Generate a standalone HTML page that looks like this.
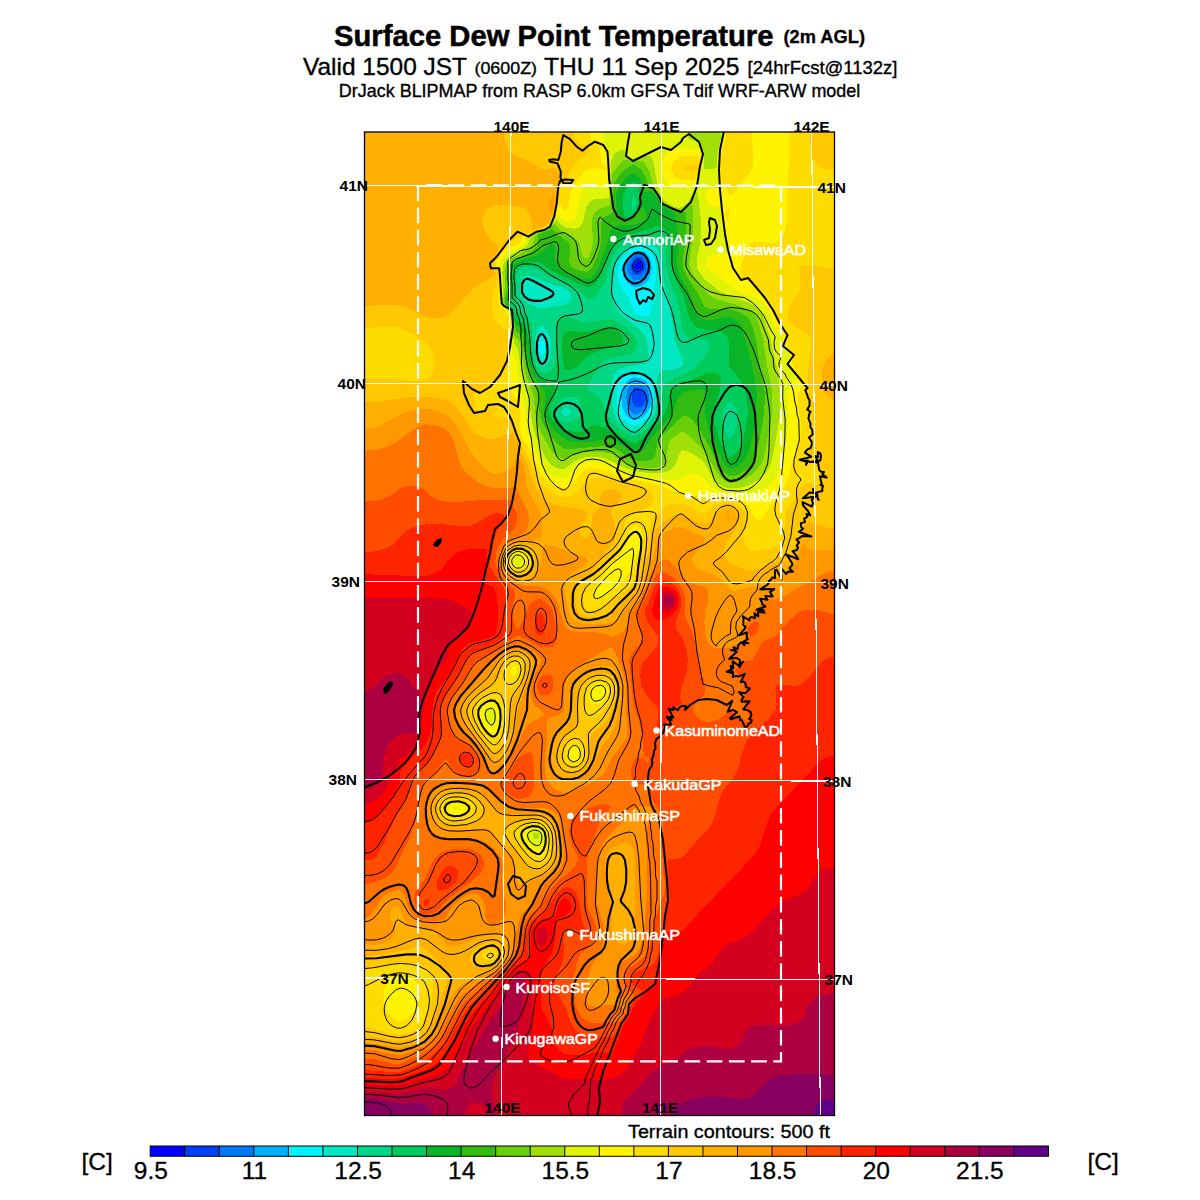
<!DOCTYPE html>
<html lang="en"><head><meta charset="utf-8"><title>Surface Dew Point Temperature</title>
<style>html,body{margin:0;padding:0;background:#fff}body{width:1200px;height:1200px;overflow:hidden}svg{display:block}text{font-family:'Liberation Sans', Arial, Helvetica, sans-serif}</style></head><body>
<svg width="1200" height="1200" viewBox="0 0 1200 1200">
<rect width="1200" height="1200" fill="#fff"/>
<defs><clipPath id="mapclip"><rect x="364.5" y="132.0" width="470.0" height="983.5"/></clipPath></defs>
<g clip-path="url(#mapclip)" shape-rendering="crispEdges">
<rect x="364.5" y="132.0" width="470.0" height="983.5" fill="#0000ff"/>
<path fill="#0040f8" fill-rule="evenodd" d="M362.5,130.0 836.5,130.0 836.5,1116.0 362.5,1116.0ZM638.5,261.4 636.5,262.2 634.3,266.0 634.5,268.1 636.5,269.6 638.5,269.7 640.5,268.7 641.8,266.0 640.5,262.0Z"/>
<path fill="#0078f8" fill-rule="evenodd" d="M362.5,130.0 836.5,130.0 836.5,1116.0 362.5,1116.0ZM636.5,257.4 634.5,258.6 632.3,262.0 630.9,266.0 630.7,268.0 632.3,272.0 633.9,274.0 636.5,275.0 640.5,274.1 642.5,272.5 644.5,269.7 645.4,266.0 644.7,262.0 642.5,258.3 640.5,257.1 638.5,256.9ZM634.5,388.4 632.9,390.0 631.9,394.0 631.9,398.0 632.6,402.0 634.5,406.4 636.5,406.9 640.5,406.6 642.5,405.7 644.4,404.0 645.4,402.0 646.3,398.0 645.7,394.0 644.5,391.2 642.5,389.3 638.5,388.3Z"/>
<path fill="#00b0fc" fill-rule="evenodd" d="M362.5,130.0 836.5,130.0 836.5,1116.0 362.5,1116.0ZM636.5,253.9 633.2,256.0 630.0,260.0 627.8,264.0 626.7,268.0 627.5,272.0 629.5,276.0 631.2,278.0 634.5,280.5 638.5,280.1 642.7,278.0 646.2,274.0 648.3,268.0 647.7,262.0 646.5,258.8 644.6,256.0 642.5,254.4 640.5,253.7ZM632.5,383.7 629.7,386.0 626.8,390.0 626.3,398.0 627.2,404.0 628.6,408.0 631.0,412.0 634.5,415.1 640.5,413.0 644.5,410.1 646.2,408.0 648.8,402.0 649.1,396.0 647.8,390.0 644.5,385.7 640.5,383.6 636.5,382.7 634.5,382.6Z"/>
<path fill="#00f4ff" fill-rule="evenodd" d="M362.5,130.0 836.5,130.0 836.5,1116.0 362.5,1116.0ZM634.5,251.4 631.0,254.0 627.3,258.0 623.5,264.0 622.2,268.0 622.8,274.0 625.2,280.0 628.7,284.0 634.5,287.4 640.5,286.3 644.5,284.1 646.5,282.3 648.5,279.6 650.2,276.0 651.9,268.0 650.4,260.0 648.5,256.0 646.5,253.5 644.5,251.9 640.5,250.5ZM632.5,377.8 628.5,379.9 626.5,381.6 623.3,386.0 621.6,390.0 621.4,398.0 622.5,406.5 625.3,414.0 629.4,418.0 634.5,420.5 638.5,419.1 642.5,416.9 646.1,414.0 647.6,412.0 649.7,408.0 651.0,404.0 651.6,396.0 650.1,388.0 648.5,384.7 646.5,382.1 644.5,380.4 640.5,378.4 634.5,377.1Z"/>
<path fill="#00e8c4" fill-rule="evenodd" d="M362.5,130.0 836.5,130.0 836.5,1116.0 362.5,1116.0ZM540.5,338.3 539.2,342.0 539.0,350.0 540.5,356.1 542.5,356.1 544.7,352.0 545.2,348.0 545.1,344.0 543.7,340.0 542.5,338.7ZM634.5,248.0 630.5,250.3 626.0,254.0 622.4,258.0 619.9,262.0 617.7,268.0 617.5,274.0 618.3,280.0 619.5,284.0 621.5,288.0 629.1,298.0 634.5,312.6 636.5,314.0 640.5,315.4 647.2,316.0 648.5,315.5 650.2,314.0 650.9,312.0 651.1,300.0 654.5,287.9 655.8,280.0 656.3,270.0 655.8,264.0 653.3,256.0 650.6,252.0 648.4,250.0 642.5,247.4 638.5,247.2ZM634.5,371.6 626.5,374.2 621.7,378.0 619.2,382.0 617.6,386.0 616.7,390.0 616.6,394.0 617.4,406.0 618.8,412.0 620.5,415.7 626.5,421.9 630.5,424.3 634.5,425.7 638.5,424.1 644.5,420.3 648.5,416.6 650.4,414.0 653.3,406.0 654.2,396.0 653.7,390.0 652.5,384.7 650.6,380.0 648.5,376.9 646.5,375.1 642.5,373.0Z"/>
<path fill="#00d888" fill-rule="evenodd" d="M362.5,130.0 836.5,130.0 836.5,1116.0 362.5,1116.0ZM526.5,275.6 524.5,276.3 522.6,278.0 521.6,280.0 520.7,284.0 520.5,292.0 522.5,297.2 524.3,300.0 528.5,303.7 536.5,307.1 540.5,308.3 542.5,308.2 558.5,306.1 564.5,304.9 568.5,302.7 570.5,300.1 571.1,296.0 570.1,292.0 564.5,288.2 546.5,282.4 532.5,276.3 528.5,275.5ZM636.5,243.8 630.5,246.0 624.5,249.7 620.1,254.0 616.5,259.6 613.3,268.0 611.3,292.0 613.6,302.0 616.3,308.0 618.9,312.0 622.4,316.0 640.7,330.0 644.8,336.0 647.1,342.0 648.6,356.0 648.2,360.0 647.2,362.0 644.2,364.0 626.5,366.7 621.9,368.0 618.5,369.7 615.9,372.0 614.5,374.1 612.9,378.0 611.7,384.0 611.1,390.0 611.8,402.0 613.4,412.0 614.9,416.0 619.3,422.0 623.7,426.0 628.5,428.9 634.5,430.9 640.5,428.2 646.5,423.7 651.9,418.0 654.4,414.0 656.1,408.0 656.9,402.0 657.1,380.0 657.6,376.0 658.5,373.7 660.4,372.0 662.5,371.2 674.5,369.0 680.5,366.8 682.5,365.1 683.3,362.0 682.6,358.0 676.7,346.0 674.7,340.0 670.5,310.0 668.3,300.0 663.2,282.0 660.0,258.0 658.5,251.5 656.4,248.0 653.8,246.0 650.5,244.6 642.5,243.3ZM540.5,326.0 538.5,328.6 536.3,334.0 535.1,340.0 535.0,348.0 536.0,356.0 538.0,362.0 540.5,366.3 542.5,366.7 544.5,366.2 546.5,364.8 549.4,360.0 550.8,354.0 551.1,344.0 550.3,338.0 548.0,332.0 544.5,327.6 542.5,326.3ZM564.5,407.7 562.4,410.0 562.0,412.0 562.5,414.2 564.5,415.9 566.5,415.6 569.8,414.0 570.7,412.0 570.3,410.0 567.7,408.0Z"/>
<path fill="#00cc5c" fill-rule="evenodd" d="M362.5,130.0 836.5,130.0 836.5,1116.0 362.5,1116.0ZM634.5,193.8 632.5,197.2 632.0,202.0 632.5,209.4 634.5,209.7 635.5,202.0ZM644.5,237.8 634.5,239.5 630.5,241.0 622.5,245.1 618.5,248.5 614.5,254.0 611.6,260.0 609.3,266.0 605.4,280.0 602.5,286.9 596.5,295.2 594.5,297.0 590.5,299.0 588.5,299.4 586.5,298.5 580.7,292.0 568.5,284.2 550.5,277.0 540.5,271.1 532.5,267.8 526.5,267.2 522.5,267.8 520.5,268.6 518.5,270.1 517.4,272.0 516.5,274.5 515.8,280.0 515.6,292.0 516.5,306.0 518.5,310.2 528.5,317.7 531.1,322.0 531.9,328.0 531.9,346.0 532.9,356.0 535.8,366.0 540.5,372.6 544.5,373.4 548.5,372.5 552.0,370.0 554.4,366.0 555.7,360.0 556.1,354.0 555.8,324.0 557.2,320.0 560.5,317.4 564.5,316.4 568.5,317.0 582.5,321.9 586.5,322.7 590.5,322.4 604.5,319.3 610.5,319.2 616.5,321.6 624.0,326.0 629.0,330.0 634.3,336.0 636.7,340.0 637.1,342.0 636.5,346.7 634.5,351.1 632.5,352.9 628.5,354.7 610.5,358.0 605.6,360.0 602.6,362.0 600.5,364.0 597.8,368.0 586.5,390.0 594.5,393.2 598.5,396.0 600.5,398.5 602.5,402.5 607.5,416.0 615.7,426.0 624.5,432.7 630.5,435.4 634.5,436.3 640.5,433.7 646.5,429.2 652.5,423.3 657.9,416.0 660.4,408.0 662.6,390.0 664.1,386.0 665.5,384.0 670.5,380.2 688.5,372.3 697.1,366.0 707.7,352.0 709.7,346.0 709.1,342.0 706.5,340.1 704.5,339.6 692.5,339.3 688.5,337.8 684.8,334.0 682.5,328.0 679.6,310.0 677.3,300.0 674.6,292.0 670.2,282.0 667.7,274.0 666.3,266.0 664.8,248.0 663.1,242.0 660.5,238.7 658.5,237.1 654.5,236.7ZM728.5,401.7 724.5,408.1 722.5,413.9 722.4,416.0 724.4,428.0 728.5,438.7 730.6,438.0 732.5,435.5 734.5,431.4 736.7,424.0 737.8,416.0 736.6,410.0 734.5,405.7 732.5,403.4 730.5,402.0ZM564.5,397.9 560.5,401.1 556.3,406.0 554.8,410.0 554.9,414.0 555.9,416.0 558.5,418.9 564.5,422.6 568.5,422.6 572.5,421.7 575.9,420.0 578.3,418.0 580.8,414.0 581.8,410.0 581.1,404.0 579.3,400.0 576.5,397.4 574.5,396.8 570.5,396.7Z"/>
<path fill="#08b428" fill-rule="evenodd" d="M362.5,130.0 836.5,130.0 836.5,1116.0 362.5,1116.0ZM630.5,183.8 626.5,188.0 623.5,194.0 623.1,202.0 623.8,216.0 626.5,217.7 630.5,217.0 634.5,213.9 637.0,210.0 639.0,204.0 639.3,192.0 638.5,187.2 636.5,183.9 634.5,182.0ZM658.5,226.0 642.5,231.1 626.5,235.4 622.5,236.9 618.5,239.6 614.5,244.1 610.9,250.0 602.3,272.0 598.5,279.4 594.5,284.0 591.7,286.0 588.5,287.3 584.5,286.3 554.5,272.4 548.5,268.7 540.5,262.7 534.5,262.2 528.5,262.5 518.5,264.7 516.5,265.9 514.9,268.0 513.7,272.0 512.9,278.0 512.2,296.0 510.3,306.0 512.9,310.0 514.5,316.1 516.5,319.8 518.5,320.5 522.5,322.9 524.5,325.0 526.5,328.6 528.2,336.0 530.5,358.0 532.5,366.0 534.5,370.5 540.5,378.8 552.5,383.7 555.0,386.0 556.1,390.0 555.7,392.0 550.0,406.0 549.2,410.0 549.4,414.0 551.2,418.0 554.4,422.0 562.5,428.6 564.5,429.9 570.5,431.3 576.5,431.9 580.5,431.7 585.3,430.0 590.5,425.9 592.5,425.1 596.5,425.2 610.5,430.2 620.5,436.8 628.5,441.1 634.5,443.2 636.5,442.6 642.5,438.6 650.5,431.6 657.5,424.0 663.8,416.0 665.5,412.0 669.6,394.0 671.8,390.0 674.0,388.0 680.5,384.0 691.4,380.0 704.5,374.1 710.5,372.9 716.5,373.2 718.6,374.0 720.3,376.0 721.0,382.0 720.0,390.0 716.5,400.0 714.1,410.0 713.6,416.0 714.5,422.0 718.9,438.0 724.5,449.9 728.5,456.6 730.5,456.9 732.5,456.2 736.5,453.1 740.5,446.9 743.3,440.0 745.9,428.0 747.7,416.0 747.8,410.0 746.7,398.0 744.8,390.0 740.5,380.7 728.9,366.0 728.5,362.0 728.8,342.0 728.4,340.0 726.3,336.0 722.5,332.7 718.5,331.2 702.5,329.0 698.5,327.8 694.5,325.5 690.5,320.1 688.9,316.0 683.4,296.0 675.0,278.0 672.4,270.0 671.5,262.0 671.7,244.0 670.4,238.0 668.5,233.9 665.5,230.0 662.5,227.6ZM603.6,328.0 608.5,327.5 612.3,328.0 618.5,331.4 622.4,336.0 623.5,340.0 622.7,342.0 620.1,344.0 615.8,346.0 598.5,351.0 591.3,354.0 585.6,358.0 577.4,366.0 572.5,369.1 568.5,370.1 566.5,369.8 564.5,368.0 562.5,357.2 561.8,346.0 562.5,338.6 564.5,333.4 566.5,332.0 570.5,331.1 582.5,331.9 588.5,331.7Z"/>
<path fill="#30bc10" fill-rule="evenodd" d="M362.5,130.0 836.5,130.0 836.5,1116.0 362.5,1116.0ZM632.5,173.6 628.5,175.6 624.5,179.3 620.5,184.9 616.8,192.0 616.1,194.0 616.0,200.0 616.3,206.0 617.6,212.0 620.1,218.0 622.5,220.7 624.5,221.6 628.5,221.4 632.5,219.0 635.8,216.0 642.5,207.0 643.6,208.0 645.6,212.0 646.7,216.0 646.6,218.0 641.1,222.0 636.4,224.0 630.5,225.0 618.5,225.4 614.5,226.4 612.5,227.7 610.5,231.1 607.3,244.0 599.1,266.0 594.5,274.0 590.5,278.0 588.5,279.3 586.5,279.4 582.5,278.5 566.6,272.0 559.4,268.0 557.5,266.0 555.7,262.0 554.7,256.0 555.3,248.0 554.5,245.8 552.5,244.3 550.5,244.4 544.3,250.0 536.5,255.3 516.5,262.2 512.6,266.0 511.6,268.0 510.2,276.0 509.8,292.0 508.5,297.8 506.7,302.0 506.9,304.0 511.5,310.0 515.6,322.0 516.5,326.0 518.5,326.9 521.7,330.0 524.5,335.4 526.0,342.0 528.6,362.0 531.7,372.0 536.5,380.6 540.5,385.9 544.5,390.0 545.2,392.0 545.6,398.0 544.1,410.0 544.9,416.0 548.0,422.0 552.5,427.8 562.5,437.8 565.7,440.0 573.5,442.0 582.5,442.5 590.2,442.0 604.5,439.3 610.5,439.2 616.5,441.8 632.5,451.2 634.5,452.1 636.5,452.1 640.5,450.9 644.5,448.0 651.4,438.0 669.8,418.0 672.3,414.0 677.2,400.0 681.1,394.0 682.5,392.8 690.8,390.0 698.5,389.1 702.5,389.5 704.5,390.7 705.4,394.0 705.3,416.0 708.5,428.0 712.6,440.0 724.5,464.0 728.5,468.1 730.5,468.4 734.5,467.7 738.5,465.9 742.5,462.6 745.6,458.0 748.5,451.8 752.5,438.0 756.4,410.0 756.7,392.0 755.3,382.0 752.5,366.9 742.8,330.0 740.9,326.0 738.0,322.0 734.5,319.1 730.5,317.1 728.5,316.6 726.5,316.9 714.5,319.7 706.5,320.4 702.5,319.2 698.5,315.9 695.5,310.0 689.2,292.0 681.1,278.0 677.5,268.0 677.1,260.0 678.6,240.0 677.7,232.0 674.9,218.0 675.5,214.0 674.5,213.6 673.4,212.0 670.5,210.7 662.5,205.3 659.5,202.0 656.5,196.5 654.5,194.0 652.5,192.4 650.5,191.4 644.5,192.3 644.2,192.0 642.9,190.0 642.7,184.0 640.5,179.3 636.5,174.4 634.5,173.1Z"/>
<path fill="#68d008" fill-rule="evenodd" d="M362.5,130.0 836.5,130.0 836.5,1116.0 362.5,1116.0ZM632.5,165.4 626.5,168.0 622.5,171.4 617.2,178.0 613.6,184.0 613.1,188.0 613.3,208.0 612.8,212.0 612.5,212.6 604.5,216.7 603.0,218.0 602.1,220.0 601.0,226.0 601.0,242.0 599.7,248.0 596.5,257.7 593.7,264.0 591.4,268.0 588.5,271.0 586.5,271.7 580.5,270.8 573.1,268.0 570.7,266.0 569.2,262.0 570.1,248.0 569.5,244.0 568.5,242.0 557.0,234.0 552.5,229.4 550.5,229.3 539.4,234.0 537.8,236.0 538.1,242.0 537.8,244.0 535.9,248.0 534.2,250.0 528.5,253.9 518.5,257.8 514.6,260.0 510.5,264.0 508.4,268.0 507.7,274.0 507.3,290.0 504.7,300.0 504.7,302.0 505.3,304.0 510.3,310.0 511.3,312.0 514.4,322.0 516.5,331.7 518.5,333.1 520.5,335.7 522.5,340.0 525.9,362.0 527.7,370.0 530.5,377.7 537.3,390.0 538.5,394.0 539.3,400.0 539.5,412.0 540.6,418.0 544.5,426.4 552.5,438.0 558.5,444.9 564.5,449.0 572.5,448.9 602.5,446.2 610.5,446.6 614.5,448.3 628.5,457.2 634.5,460.4 644.5,461.3 650.9,460.0 653.6,458.0 654.5,456.7 655.5,454.0 657.5,442.0 658.1,440.0 659.5,438.0 674.6,424.0 682.5,415.6 686.5,416.0 688.5,416.8 692.5,419.9 698.5,427.8 708.5,445.3 717.8,464.0 722.5,470.8 728.5,476.0 732.5,476.1 736.5,475.1 742.5,472.2 748.1,468.0 752.2,464.0 754.2,460.0 756.5,453.6 758.8,444.0 764.0,414.0 764.8,400.0 764.5,390.0 759.9,366.0 756.0,340.0 752.5,325.5 749.7,320.0 746.5,316.2 738.5,311.9 728.5,309.0 710.5,309.2 706.5,308.1 704.5,306.5 696.9,292.0 686.7,276.0 683.2,268.0 682.9,260.0 685.5,240.0 685.6,212.0 680.5,212.0 676.5,211.3 668.5,207.4 663.4,204.0 660.5,200.6 656.5,193.5 648.7,186.0 645.0,176.0 641.3,170.0 636.5,165.9 634.5,165.1Z"/>
<path fill="#a0e008" fill-rule="evenodd" d="M362.5,130.0 836.5,130.0 836.5,1116.0 362.5,1116.0ZM624.5,159.8 621.2,162.0 618.5,164.7 612.5,173.5 611.1,184.0 611.2,194.0 610.1,204.0 608.5,205.9 601.4,208.0 597.5,210.0 594.5,213.0 592.5,216.8 591.8,224.0 593.3,242.0 591.5,250.0 588.5,257.5 586.5,258.8 584.5,258.0 582.8,256.0 581.3,252.0 579.4,244.0 577.1,240.0 571.8,236.0 562.5,231.4 558.5,228.2 554.5,223.8 548.5,228.9 538.5,233.4 534.9,236.0 533.6,238.0 533.6,242.0 532.9,244.0 530.0,248.0 524.5,251.9 516.5,255.5 512.3,258.0 508.5,261.6 506.0,266.0 505.2,270.0 504.8,288.0 503.4,302.0 505.2,306.0 508.5,309.3 510.3,312.0 513.8,324.0 514.5,336.0 518.5,339.8 520.1,344.0 525.5,374.0 528.1,382.0 531.7,390.0 533.5,396.0 535.7,416.0 538.5,426.5 542.5,435.3 550.9,450.0 554.5,454.4 556.5,456.1 560.5,458.1 564.5,458.8 574.5,454.9 586.5,452.3 594.5,451.8 602.5,452.1 611.3,454.0 626.5,463.1 633.4,466.0 640.5,467.3 648.5,468.0 658.5,467.4 664.4,464.0 666.6,458.0 668.5,444.0 670.3,440.0 676.5,434.9 680.5,432.4 682.5,431.9 686.5,433.8 690.5,436.7 704.5,450.9 716.4,472.0 722.5,479.2 728.5,482.7 734.5,482.5 740.5,480.9 746.5,478.0 752.5,474.0 756.7,470.0 761.4,464.0 763.6,458.0 765.6,450.0 771.9,414.0 772.4,402.0 772.0,390.0 766.8,364.0 763.3,340.0 758.4,322.0 756.5,317.4 754.5,314.4 752.5,312.4 748.5,309.8 736.5,304.7 716.5,299.4 710.5,296.1 704.5,290.1 696.6,280.0 692.6,274.0 689.8,268.0 689.3,264.0 689.8,256.0 692.3,242.0 692.8,236.0 693.0,222.0 692.5,206.0 690.5,205.4 682.5,209.6 678.5,209.9 674.5,208.7 665.8,204.0 662.5,201.0 658.6,194.0 652.9,186.0 649.4,172.0 646.6,166.0 644.5,163.2 642.5,161.3 640.5,160.9 632.5,161.2 626.5,159.5Z"/>
<path fill="#e0f408" fill-rule="evenodd" d="M362.5,130.0 686.7,130.0 688.0,134.0 687.6,138.0 690.5,139.4 696.5,141.0 700.5,145.0 702.5,148.6 703.9,152.0 704.6,156.0 704.1,162.0 704.5,168.8 714.5,168.5 716.5,167.2 717.7,152.0 720.6,140.0 721.0,136.0 720.4,134.0 718.5,131.9 715.4,130.0 836.5,130.0 836.5,1116.0 362.5,1116.0ZM622.5,149.6 618.5,150.9 616.5,152.2 613.2,156.0 611.4,160.0 610.7,164.0 610.7,172.0 609.3,184.0 609.3,194.0 608.5,198.0 594.5,199.5 592.5,200.1 589.4,202.0 586.5,207.2 582.8,222.0 580.5,226.3 578.5,227.8 574.5,228.7 566.5,227.7 562.5,225.7 556.5,219.4 550.7,226.0 548.2,228.0 536.5,233.4 530.2,238.0 528.3,244.0 524.5,247.9 512.5,254.1 508.5,256.8 505.5,260.0 502.8,266.0 502.4,274.0 503.3,288.0 502.1,302.0 503.7,306.0 509.2,312.0 512.4,322.0 513.1,326.0 513.0,336.0 514.0,342.0 514.5,344.0 516.5,346.0 518.5,352.1 522.2,376.0 528.6,398.0 532.0,422.0 535.1,434.0 542.5,451.8 546.8,460.0 550.0,464.0 552.5,465.9 558.5,468.6 564.5,468.8 573.3,462.0 582.2,458.0 588.5,456.6 594.5,456.7 602.5,457.7 608.5,459.5 622.5,466.8 634.5,471.1 650.5,473.2 660.5,473.2 666.5,471.8 670.1,470.0 672.6,468.0 675.6,464.0 680.5,452.0 682.5,450.2 686.5,450.9 690.5,452.5 696.5,456.1 700.5,459.3 704.5,463.1 710.7,474.0 714.5,479.6 718.5,483.6 722.0,486.0 728.5,488.4 732.5,488.5 740.5,487.7 746.7,486.0 752.5,483.4 760.5,478.0 766.4,472.0 770.0,466.0 772.9,456.0 779.8,416.0 779.8,390.0 778.7,374.0 774.5,359.3 770.8,340.0 763.9,318.0 762.0,314.0 759.1,310.0 756.5,307.4 752.5,304.7 744.5,301.1 724.8,294.0 718.5,290.4 704.5,279.1 698.0,270.0 696.5,266.0 696.5,260.0 700.3,242.0 701.2,228.0 700.6,218.0 698.0,196.0 697.1,192.0 696.5,191.4 694.5,192.4 692.5,194.7 688.1,202.0 682.5,207.0 678.5,207.9 674.5,206.8 668.7,204.0 663.7,200.0 658.3,190.0 653.9,164.0 652.5,159.5 650.5,156.0 646.5,156.1 636.5,158.5 632.5,158.6 630.3,158.0 627.7,156.0 624.5,149.8ZM534.5,833.4 533.4,834.0 532.8,836.0 534.5,838.8 536.5,839.5 538.5,838.2 538.9,836.0 537.9,834.0 536.5,833.4Z"/>
<path fill="#fff400" fill-rule="evenodd" d="M362.5,130.0 602.5,130.0 604.2,142.0 607.3,154.0 608.8,170.0 608.5,175.3 606.5,188.9 600.5,188.0 590.5,185.0 588.5,184.9 586.5,185.9 582.8,190.0 580.7,194.0 579.3,200.0 577.0,214.0 575.5,218.0 574.5,219.2 570.5,221.4 564.5,221.3 561.0,218.0 558.5,213.9 556.5,215.8 551.3,224.0 548.5,226.7 544.5,229.2 537.1,232.0 530.5,236.2 526.4,238.0 525.0,242.0 521.4,246.0 518.2,248.0 508.7,252.0 505.6,254.0 502.0,258.0 499.8,264.0 499.7,268.0 501.1,274.0 501.8,288.0 500.9,302.0 502.3,306.0 508.5,312.8 511.4,322.0 512.0,326.0 511.7,346.0 512.1,352.0 512.5,354.0 514.8,358.0 516.5,363.6 519.1,384.0 524.9,406.0 527.5,430.0 529.5,438.0 534.7,448.0 540.5,463.2 542.5,466.5 546.5,471.0 550.5,474.2 554.5,476.5 560.5,478.7 564.5,479.0 566.5,477.7 576.5,467.8 581.0,464.0 586.5,461.7 592.5,461.5 602.5,463.5 620.5,471.3 630.5,474.6 638.5,476.3 658.5,479.1 672.5,479.8 678.5,479.5 683.1,478.0 690.5,474.4 692.5,474.0 696.5,474.4 700.5,476.2 704.5,479.0 708.5,484.0 712.7,488.0 718.5,490.9 728.5,493.0 752.5,495.1 756.5,493.7 760.5,491.5 770.5,484.1 775.3,478.0 779.0,470.0 781.8,460.0 785.9,440.0 787.7,428.0 788.6,416.0 787.9,398.0 788.5,390.0 791.4,384.0 795.8,380.0 795.9,378.0 789.7,366.0 789.2,364.0 790.6,356.0 789.9,354.0 784.6,348.0 783.6,346.0 783.4,338.0 782.5,334.0 776.5,330.0 774.5,326.2 768.7,310.0 764.5,303.4 762.5,301.3 758.5,298.9 739.6,292.0 736.3,290.0 706.5,268.0 705.7,266.0 705.8,262.0 706.5,259.1 708.5,256.3 710.5,254.9 714.5,253.9 724.5,254.5 726.5,254.0 727.2,250.0 726.7,244.0 723.2,228.0 722.0,220.0 718.5,206.8 714.5,207.4 710.5,206.0 708.5,203.9 706.5,200.1 705.7,194.0 706.5,191.3 708.5,189.4 712.5,187.9 716.5,187.8 717.1,186.0 718.3,178.0 719.9,152.0 723.2,138.0 723.2,134.0 721.8,130.0 836.5,130.0 836.5,1116.0 362.5,1116.0ZM452.5,807.6 451.9,808.0 452.5,808.6 454.5,809.8 456.5,809.9 460.0,808.0 456.5,806.8ZM488.5,707.6 484.9,710.0 484.1,714.0 484.5,717.3 486.4,722.0 488.0,724.0 490.5,726.2 492.5,726.9 494.5,725.2 495.7,720.0 495.9,714.0 495.2,710.0 494.5,708.7 492.5,707.3ZM516.5,555.3 513.8,558.0 512.9,562.0 514.2,564.0 516.5,565.7 518.5,565.9 520.5,565.0 522.5,563.1 523.2,562.0 523.0,560.0 522.2,558.0 520.5,556.1 518.5,555.2ZM530.5,829.1 526.5,832.0 525.7,834.0 526.3,838.0 527.1,840.0 529.9,844.0 532.5,846.4 536.5,848.4 540.5,848.7 542.5,845.6 543.9,840.0 544.0,836.0 543.0,832.0 540.5,829.3 538.5,828.6 534.5,828.2ZM600.5,689.9 598.5,690.0 597.2,692.0 597.7,694.0 598.5,694.5 600.6,694.0 601.4,692.0ZM673.7,150.0 680.5,148.4 696.5,148.8 698.5,149.4 700.6,152.0 701.5,154.0 702.1,158.0 699.9,174.0 696.5,182.7 694.5,185.6 692.5,187.3 680.5,188.5 672.6,188.0 668.5,186.0 665.5,182.0 663.3,176.0 662.2,170.0 662.2,166.0 663.3,160.0 664.5,156.8 666.5,153.8 668.6,152.0Z"/>
<path fill="#ffdc00" fill-rule="evenodd" d="M362.5,130.0 589.5,130.0 590.0,134.0 591.8,140.0 596.5,143.0 598.9,146.0 599.6,148.0 601.4,162.0 602.5,164.6 604.5,166.2 604.5,170.3 598.5,168.3 594.5,167.9 588.5,168.7 584.5,171.3 578.3,178.0 572.2,188.0 570.2,194.0 568.5,206.2 566.5,210.1 564.5,210.9 560.5,204.8 559.9,206.0 558.5,207.0 552.8,220.0 548.1,226.0 544.5,228.3 536.5,231.2 530.5,234.6 522.5,237.1 521.5,238.0 520.4,242.0 518.5,243.9 516.5,245.0 508.5,247.3 504.5,250.2 500.5,255.0 496.2,262.0 496.3,266.0 498.7,270.0 499.8,274.0 500.0,288.0 499.2,298.0 499.6,304.0 502.5,308.6 504.5,310.0 506.6,314.0 508.5,316.0 509.1,320.0 510.7,324.0 510.4,340.0 508.4,366.0 508.9,386.0 509.7,390.0 516.5,399.8 519.4,408.0 520.5,414.0 520.1,430.0 521.0,436.0 522.8,440.0 527.5,446.0 531.2,452.0 540.5,473.7 544.5,478.1 548.5,481.5 552.5,484.1 558.5,487.0 564.5,488.4 568.5,486.7 572.5,483.7 582.5,472.0 586.5,468.7 588.5,467.9 594.5,468.2 600.5,469.7 626.5,478.4 652.5,483.6 661.8,486.0 667.2,488.0 674.5,491.7 680.5,493.6 704.5,497.6 726.5,497.3 732.5,498.0 738.5,499.5 742.5,501.2 746.5,504.0 749.7,508.0 754.5,516.8 756.5,519.1 758.5,520.3 760.5,520.2 762.5,518.4 765.7,512.0 781.1,492.0 785.6,484.0 788.6,476.0 800.0,438.0 801.3,432.0 801.4,424.0 798.5,409.8 797.6,398.0 798.5,392.2 800.0,390.0 802.4,388.0 802.6,386.0 801.9,382.0 800.3,378.0 793.8,368.0 792.0,364.0 792.0,362.0 793.6,356.0 793.3,354.0 787.1,346.0 786.6,344.0 787.1,336.0 785.8,332.0 779.0,322.0 773.3,310.0 765.6,298.0 750.5,282.1 747.3,280.0 742.6,278.0 740.5,276.3 739.2,274.0 738.8,270.0 740.8,266.0 746.4,250.0 750.5,244.1 752.5,242.6 756.5,241.9 770.5,243.1 774.5,242.9 776.5,242.2 781.0,238.0 783.5,234.0 785.1,230.0 787.5,218.0 787.3,194.0 788.9,162.0 788.9,130.0 836.5,130.0 836.5,1116.0 362.5,1116.0ZM398.5,975.7 392.1,978.0 388.9,980.0 387.2,982.0 384.5,988.0 383.7,992.0 383.4,998.0 384.5,1005.8 388.0,1012.0 393.9,1018.0 398.5,1020.7 400.5,1020.9 404.5,1019.2 409.1,1016.0 412.5,1012.5 416.5,1006.8 417.9,1004.0 418.5,1001.0 419.1,992.0 417.9,986.0 415.7,982.0 413.9,980.0 406.5,976.7 400.5,975.5ZM450.5,801.6 446.5,803.6 443.9,808.0 444.5,810.4 446.5,813.6 450.5,815.6 456.5,816.3 462.5,815.2 467.9,812.0 469.5,810.0 470.3,808.0 467.1,804.0 462.5,801.6 456.5,800.7ZM490.5,699.9 484.5,702.3 480.5,705.8 477.7,710.0 477.7,714.0 479.9,722.0 484.5,730.1 487.8,734.0 490.5,736.3 492.5,737.5 494.5,737.6 497.6,734.0 499.6,728.0 500.8,720.0 500.7,710.0 498.5,704.3 496.5,701.6 494.5,700.0ZM516.5,551.6 512.8,554.0 511.2,556.0 510.3,558.0 509.8,562.0 512.5,566.5 516.5,569.1 518.5,569.3 522.4,568.0 524.9,566.0 527.2,562.0 527.1,560.0 525.6,556.0 523.9,554.0 520.5,551.9ZM528.5,825.7 524.2,828.0 520.4,832.0 520.0,834.0 520.9,838.0 523.9,844.0 528.5,849.8 534.5,855.0 540.5,857.4 542.5,855.9 544.5,852.9 547.0,846.0 547.7,838.0 546.6,832.0 543.9,828.0 540.5,825.2 534.5,824.5ZM572.5,745.5 570.0,748.0 568.5,751.4 568.0,754.0 568.4,758.0 569.5,760.0 572.2,762.0 574.5,762.5 576.5,762.1 578.5,760.9 580.5,758.0 581.3,754.0 580.8,750.0 578.6,746.0 576.5,744.8 574.5,744.7ZM634.5,525.7 632.2,528.0 629.6,532.0 624.6,546.0 621.7,552.0 610.5,566.0 602.5,578.3 595.3,588.0 593.7,594.0 593.9,596.0 595.5,598.0 598.5,598.3 602.5,596.8 610.5,592.1 618.5,586.0 625.5,578.0 634.5,561.9 639.9,548.0 642.2,538.0 641.9,534.0 640.5,529.3 638.5,526.9 636.5,525.8ZM512.5,666.9 510.3,670.0 510.3,674.0 512.5,676.3 514.5,676.1 516.8,674.0 517.6,670.0 517.2,668.0 516.5,666.5 514.5,666.0ZM596.5,683.7 592.8,686.0 591.2,688.0 590.1,690.0 589.0,694.0 589.2,698.0 590.5,701.6 592.5,703.6 594.5,704.2 596.5,704.2 600.5,702.9 604.5,700.0 607.3,696.0 608.4,692.0 608.0,688.0 607.0,686.0 604.6,684.0 600.5,683.0ZM725.1,130.0 751.3,130.0 753.5,158.0 752.5,168.0 750.1,172.0 736.5,189.9 732.5,193.7 730.5,194.8 728.5,192.9 726.1,188.0 722.5,183.6 721.4,176.0 721.0,168.0 721.7,156.0 722.5,150.0 725.6,138.0 725.7,134.0ZM684.9,156.0 698.5,156.0 699.3,158.0 699.6,162.0 698.5,170.8 696.8,176.0 694.5,179.7 684.5,180.1 680.5,179.6 676.8,178.0 674.5,176.2 671.6,172.0 670.7,168.0 673.6,162.0 678.5,157.8 682.5,156.3ZM727.6,210.0 728.5,208.1 729.1,212.0 728.7,218.0 726.5,220.1 726.3,212.0 726.5,210.9Z"/>
<path fill="#ffc800" fill-rule="evenodd" d="M362.5,130.0 573.9,130.0 574.2,134.0 575.3,138.0 579.1,144.0 582.5,146.3 588.5,146.6 590.7,148.0 588.5,152.3 578.9,160.0 575.3,164.0 562.5,184.0 560.2,190.0 558.2,202.0 555.0,212.0 551.6,220.0 548.9,224.0 544.5,227.3 536.5,230.2 530.5,233.1 526.5,233.7 520.5,233.5 518.5,234.6 514.5,239.0 508.5,242.8 504.5,246.5 500.5,251.5 493.7,262.0 493.3,264.0 493.7,266.0 497.7,272.0 498.3,276.0 496.9,286.0 493.5,292.0 492.1,298.0 491.6,304.0 492.0,310.0 493.4,316.0 498.2,324.0 502.6,328.0 508.5,331.1 508.8,340.0 507.1,354.0 504.9,364.0 502.5,370.1 499.1,376.0 492.5,384.5 488.5,388.1 482.5,392.1 478.5,393.3 474.5,393.3 472.7,394.0 474.4,400.0 474.5,406.6 474.8,408.0 476.5,410.2 480.5,411.3 484.5,410.4 490.5,407.3 494.5,407.3 497.7,408.0 497.8,410.0 495.3,412.0 494.2,414.0 497.3,416.0 506.5,417.5 508.5,418.5 510.5,420.5 512.5,423.8 518.5,437.1 522.5,448.0 526.5,453.1 529.2,458.0 535.3,474.0 538.3,480.0 542.5,485.3 552.5,493.0 558.5,495.8 564.5,497.3 570.5,496.0 574.5,494.2 577.5,492.0 588.5,479.3 592.5,478.0 596.5,477.8 610.5,480.0 645.6,488.0 649.4,490.0 652.9,494.0 653.6,496.0 653.8,500.0 651.7,504.0 646.5,508.0 632.5,514.3 628.5,517.5 626.5,520.0 623.9,526.0 620.1,542.0 616.5,549.7 608.4,560.0 598.5,574.2 594.5,578.6 586.5,585.8 585.1,588.0 583.4,594.0 583.3,602.0 584.4,606.0 585.6,608.0 588.5,610.4 594.5,610.1 602.5,606.7 610.5,601.4 618.5,594.9 628.5,588.3 630.9,586.0 634.5,579.6 638.5,566.0 644.3,550.0 651.2,522.0 653.5,518.0 658.5,513.3 662.3,508.0 666.5,505.1 674.5,503.5 682.5,503.8 688.5,506.0 699.6,512.0 704.5,513.1 706.5,512.1 713.7,506.0 718.5,503.6 726.5,502.0 732.5,502.9 738.9,506.0 741.2,508.0 744.1,512.0 745.1,516.0 745.4,522.0 743.8,538.0 744.1,540.0 746.4,546.0 750.2,550.0 752.5,551.3 754.5,551.4 760.5,550.9 768.5,549.3 776.5,546.5 781.2,542.0 783.6,538.0 784.0,536.0 785.3,514.0 787.2,510.0 794.8,498.0 798.5,490.3 800.5,487.2 802.5,485.3 806.5,483.2 810.5,482.9 816.5,484.9 818.5,484.9 821.6,474.0 820.8,470.0 816.7,460.0 814.5,458.7 810.5,458.9 809.4,458.0 808.9,456.0 811.8,444.0 812.3,438.0 812.2,418.0 808.4,388.0 807.9,370.0 808.2,364.0 811.5,346.0 811.4,340.0 808.9,336.0 806.9,334.0 794.5,326.5 790.5,322.5 789.0,320.0 787.6,316.0 788.4,310.0 791.6,302.0 799.1,292.0 799.9,290.0 800.7,284.0 799.0,270.0 799.4,268.0 800.5,266.5 804.5,265.0 808.5,264.7 828.5,268.3 836.5,268.8 836.5,1116.0 362.5,1116.0 362.5,1027.3 372.5,1028.8 388.5,1032.9 398.5,1034.6 406.5,1033.5 415.9,1030.0 418.7,1028.0 422.5,1023.8 426.5,1015.2 430.6,1004.0 432.4,994.0 433.1,986.0 432.6,980.0 430.5,976.0 427.5,972.0 422.5,967.6 412.5,963.7 404.5,962.4 398.5,962.4 389.4,964.0 372.5,968.0 362.5,969.1 362.5,379.0 390.5,378.8 412.5,380.8 422.5,380.7 426.5,379.5 431.1,376.0 433.4,372.0 434.9,366.0 434.3,360.0 432.8,354.0 431.1,350.0 428.5,346.0 424.5,342.0 421.6,340.0 404.5,329.8 398.5,327.3 392.5,326.6 384.5,326.8 362.5,328.6ZM448.5,797.6 446.5,798.4 442.5,801.9 441.0,804.0 439.5,808.0 441.4,814.0 442.8,816.0 446.5,819.3 450.5,820.4 454.5,820.8 462.9,820.0 470.5,817.1 474.2,814.0 475.7,812.0 477.0,808.0 474.9,804.0 470.5,799.8 466.4,798.0 460.5,796.7 454.5,796.6ZM494.5,691.9 486.5,694.9 480.5,698.7 475.3,704.0 471.9,710.0 472.4,714.0 474.1,720.0 479.1,730.0 482.5,735.0 488.5,741.8 492.5,745.5 494.5,746.2 496.5,745.0 499.4,742.0 503.6,734.0 505.2,724.0 505.7,710.0 504.5,701.7 502.5,695.5 500.5,693.3 498.5,692.4ZM514.5,549.3 510.5,552.4 508.2,556.0 507.2,560.0 507.7,564.0 510.5,568.2 514.5,571.4 518.5,572.6 522.5,571.8 525.8,570.0 528.0,568.0 530.4,564.0 531.0,562.0 530.9,560.0 529.9,556.0 527.3,552.0 522.5,549.0 518.5,548.3ZM576.5,737.9 572.5,738.7 568.1,742.0 564.5,747.4 563.2,752.0 562.9,758.0 564.5,762.4 568.5,766.0 572.5,767.5 576.5,767.3 580.5,765.1 584.1,760.0 585.2,756.0 585.4,750.0 583.8,744.0 582.5,741.5 580.5,739.3ZM594.5,679.8 590.5,682.0 586.5,686.0 584.8,690.0 583.8,694.0 583.3,700.0 583.4,710.0 585.6,716.0 586.5,717.6 588.5,719.2 594.5,717.3 598.5,714.6 602.5,710.9 610.5,700.2 612.6,694.0 612.9,690.0 612.4,686.0 610.5,682.3 608.5,680.6 606.5,679.5 602.5,678.5 598.5,678.6ZM488.5,949.6 484.3,952.0 482.4,954.0 481.5,956.0 483.0,958.0 486.5,959.8 492.5,959.8 494.5,958.7 496.7,956.0 496.2,952.0 494.5,949.4 492.5,948.7ZM512.5,659.6 508.7,662.0 506.9,664.0 504.8,668.0 503.6,672.0 503.3,678.0 504.5,683.8 506.5,686.4 508.5,687.0 512.5,686.4 516.5,684.3 520.5,678.1 522.5,672.0 522.6,666.0 520.5,661.1 518.5,659.5 516.5,658.9ZM528.5,821.6 522.0,824.0 516.5,827.7 513.3,832.0 513.3,834.0 514.7,838.0 518.1,844.0 528.5,857.7 534.5,862.4 540.5,864.0 543.8,862.0 546.5,859.5 548.5,856.6 549.5,854.0 550.8,848.0 551.3,842.0 551.0,836.0 550.2,832.0 546.5,825.9 544.5,823.9 540.5,821.4 534.5,820.9ZM809.5,130.0 836.5,130.0 836.5,169.1 822.5,168.8 818.5,166.0 816.5,163.9 813.2,158.0 810.9,150.0 809.9,144.0ZM690.2,166.0 696.5,166.3 696.5,170.0 692.5,170.7 686.5,170.4 684.6,170.0 683.0,168.0 686.5,166.6Z"/>
<path fill="#ffb000" fill-rule="evenodd" d="M362.5,130.0 504.2,130.0 504.5,138.0 505.5,144.0 508.5,149.6 512.5,153.5 516.5,155.9 530.5,161.9 540.5,168.7 544.5,169.1 554.5,168.0 556.5,168.6 558.5,171.1 559.6,174.0 560.0,178.0 557.4,190.0 556.6,200.0 552.9,214.0 550.5,219.7 547.5,224.0 544.5,226.3 540.1,228.0 534.5,228.8 532.8,230.0 531.8,230.0 531.6,220.0 530.5,215.4 527.0,210.0 522.5,207.2 516.5,205.7 496.5,205.1 492.2,206.0 488.7,208.0 486.5,210.0 483.7,214.0 482.2,218.0 482.5,223.2 483.5,228.0 485.0,232.0 487.4,236.0 490.9,240.0 498.5,247.1 498.7,248.0 496.5,253.1 491.7,260.0 490.2,264.0 490.4,266.0 491.4,268.0 494.9,272.0 495.1,274.0 494.5,275.5 492.5,276.9 479.7,284.0 473.9,288.0 452.5,311.2 446.5,316.5 442.5,317.7 436.5,318.3 426.5,317.2 422.5,315.9 410.5,308.9 404.5,306.6 398.5,305.3 386.5,305.1 362.5,305.9ZM832.8,354.0 836.5,353.4 836.5,399.3 830.5,398.2 826.5,395.5 824.5,393.2 822.9,390.0 822.2,386.0 821.9,376.0 822.8,366.0 826.5,359.4 830.5,355.3ZM402.8,398.0 414.5,396.8 424.5,396.5 438.5,398.1 448.5,400.6 454.0,404.0 457.9,408.0 470.5,428.4 476.5,433.7 484.5,437.8 490.5,439.3 494.5,439.1 504.5,435.0 512.5,433.2 517.1,440.0 520.8,452.0 527.4,464.0 531.4,478.0 533.8,484.0 538.5,491.9 541.7,496.0 548.5,501.5 554.5,504.3 564.5,506.9 580.5,508.8 584.3,510.0 587.2,512.0 588.1,514.0 587.3,516.0 582.5,524.2 580.0,530.0 579.9,534.0 580.8,536.0 582.5,537.2 584.5,537.9 586.5,537.9 588.8,536.0 590.8,530.0 592.9,514.0 598.1,510.0 599.2,508.0 599.9,498.0 601.3,494.0 602.7,492.0 605.5,490.0 610.5,489.1 615.2,490.0 619.1,492.0 621.3,494.0 622.1,496.0 621.7,498.0 620.3,500.0 614.0,506.0 611.3,510.0 610.8,512.0 614.1,522.0 615.2,530.0 615.0,538.0 612.6,544.0 610.5,547.1 604.0,554.0 598.1,564.0 594.5,568.8 590.5,572.8 579.1,582.0 576.0,586.0 575.2,588.0 574.5,594.0 574.7,600.0 576.9,610.0 577.9,612.0 580.5,614.5 586.5,617.3 590.5,617.5 598.5,616.5 604.5,614.8 610.5,612.2 619.2,604.0 634.5,591.5 637.5,586.0 642.5,569.6 648.1,554.0 653.2,536.0 655.9,530.0 658.5,526.4 662.5,523.1 670.5,517.5 676.5,514.3 680.5,513.3 682.5,513.5 696.5,521.7 700.5,523.2 704.5,524.0 706.5,523.6 710.5,521.1 717.1,512.0 722.5,508.4 728.5,506.9 731.8,508.0 734.5,509.6 737.1,512.0 738.1,514.0 738.4,518.0 737.9,522.0 736.8,526.0 734.8,530.0 728.5,538.0 726.4,542.0 724.2,550.0 724.6,556.0 726.5,559.7 728.5,562.0 731.7,564.0 742.5,569.0 750.5,570.7 752.5,570.7 758.5,569.1 776.5,562.2 788.5,560.6 790.5,558.4 792.6,554.0 800.2,532.0 803.5,526.0 806.5,523.1 808.5,522.3 810.5,522.6 828.5,528.0 836.5,528.9 836.5,1116.0 362.5,1116.0 362.5,1036.7 374.5,1037.4 392.5,1040.7 400.5,1041.5 412.5,1038.9 422.5,1034.4 426.9,1030.0 432.1,1020.0 439.3,1004.0 447.4,980.0 445.3,972.0 441.7,966.0 426.5,949.6 422.5,946.2 420.5,945.9 416.5,946.4 404.5,950.0 384.5,954.4 372.5,955.7 362.5,955.5 362.5,402.6 376.5,402.1ZM446.5,793.9 442.5,796.2 438.6,800.0 436.3,804.0 435.2,808.0 436.5,814.0 438.5,817.8 440.5,820.2 444.5,823.3 448.5,824.8 454.5,825.3 460.5,825.1 468.5,823.7 473.5,822.0 477.5,820.0 480.5,817.6 483.3,814.0 484.4,810.0 484.5,808.0 483.5,806.0 479.1,800.0 473.8,796.0 468.5,793.8 460.5,792.6 452.5,792.7ZM516.5,545.3 511.3,548.0 507.4,552.0 505.4,556.0 504.5,562.0 507.1,568.0 512.5,573.5 516.5,575.6 522.5,575.6 528.5,573.2 531.9,570.0 534.9,564.0 535.4,562.0 535.1,558.0 533.2,552.0 529.7,548.0 526.5,546.3 522.5,545.2ZM596.5,673.9 592.5,675.2 587.4,678.0 583.2,682.0 580.4,686.0 578.4,692.0 577.6,698.0 577.4,720.0 577.0,724.0 574.9,728.0 564.5,737.0 561.4,742.0 559.2,748.0 557.8,756.0 558.0,760.0 558.7,762.0 562.5,768.6 564.5,770.6 568.5,772.1 574.5,772.7 578.5,771.7 582.5,769.2 586.5,764.6 588.8,760.0 589.8,756.0 590.3,750.0 590.3,738.0 591.5,734.0 601.4,726.0 606.4,720.0 611.8,710.0 615.4,700.0 616.8,692.0 616.6,686.0 615.4,682.0 612.5,677.0 610.5,675.0 606.5,673.5 602.5,673.1ZM510.5,655.9 506.5,658.4 502.5,662.8 499.8,668.0 496.3,678.0 494.0,682.0 489.9,686.0 480.5,692.2 473.6,698.0 468.9,704.0 466.2,710.0 466.8,714.0 468.9,720.0 475.5,732.0 490.5,751.5 492.5,753.7 494.5,754.8 498.5,752.7 501.2,750.0 504.5,745.0 507.6,738.0 509.5,730.0 511.3,706.0 512.5,700.1 514.4,696.0 518.5,690.6 522.5,683.4 525.5,676.0 527.0,670.0 527.4,666.0 526.9,662.0 526.1,660.0 524.3,658.0 520.5,655.4 516.5,654.3ZM488.5,942.0 482.5,944.0 478.9,946.0 474.4,950.0 471.3,954.0 470.2,956.0 470.5,960.0 472.5,963.8 474.5,965.4 478.5,966.7 482.5,967.1 488.5,966.4 492.5,965.3 497.0,962.0 501.8,956.0 502.1,950.0 500.7,946.0 499.0,944.0 494.5,941.5ZM526.5,817.9 516.5,820.6 509.5,824.0 505.9,828.0 504.6,832.0 505.0,834.0 509.6,842.0 518.6,854.0 526.5,865.7 529.2,868.0 532.5,869.7 536.5,870.5 540.5,870.6 544.5,868.3 548.5,865.0 551.0,862.0 553.4,858.0 554.5,853.0 555.0,846.0 554.8,838.0 553.9,832.0 552.3,828.0 549.8,824.0 546.5,820.7 542.5,818.3 540.5,817.5 536.5,817.2Z"/>
<path fill="#ff9800" fill-rule="evenodd" d="M551.6,198.0 552.5,196.4 553.8,198.0 552.5,209.6 551.6,210.0 550.7,212.0 550.5,214.5 549.6,210.0 549.6,206.0 550.5,200.5ZM413.8,410.0 422.5,408.5 428.5,409.0 438.5,411.2 446.5,414.6 452.1,420.0 456.7,426.0 462.6,436.0 469.5,450.0 474.5,456.8 482.5,466.4 486.8,470.0 492.5,473.3 494.5,473.8 500.5,473.0 506.5,470.8 511.7,468.0 514.5,465.2 515.4,460.0 516.5,457.8 518.5,457.9 520.5,460.1 522.8,464.0 523.3,466.0 526.5,484.0 528.2,490.0 532.1,498.0 541.2,514.0 542.4,522.0 541.6,534.0 540.5,538.2 538.5,540.3 518.5,541.3 512.5,543.6 508.5,546.3 505.3,550.0 502.6,556.0 501.9,562.0 503.0,566.0 505.2,570.0 508.5,574.0 512.5,577.2 516.5,579.3 520.5,579.9 524.5,579.8 528.5,579.0 532.5,577.4 536.5,574.1 538.9,570.0 541.3,562.0 542.6,548.0 543.4,546.0 544.5,544.7 546.5,544.4 554.5,546.2 570.5,552.5 582.0,556.0 585.5,558.0 587.0,560.0 587.4,562.0 585.5,564.0 574.5,571.2 570.5,574.8 566.7,580.0 564.4,586.0 565.1,596.0 568.6,612.0 572.5,618.5 574.5,620.3 578.5,622.5 582.5,623.6 588.5,624.2 606.5,623.5 610.5,622.9 612.5,622.0 616.5,618.9 623.5,610.0 634.5,599.0 640.1,590.0 646.8,572.0 651.9,560.0 658.5,537.9 660.5,535.7 664.5,532.6 674.5,528.2 680.5,527.1 682.5,527.4 692.5,532.5 701.4,536.0 705.1,538.0 704.5,541.3 702.9,544.0 694.4,554.0 692.5,558.0 691.9,562.0 694.9,566.0 698.5,568.7 714.5,575.3 720.5,578.7 724.5,582.0 730.5,589.4 732.5,590.7 736.5,590.5 750.5,587.2 764.5,585.4 771.7,580.0 786.5,573.3 789.6,570.0 794.5,562.8 795.8,562.0 796.5,559.4 798.4,558.0 798.5,555.1 799.6,554.0 800.5,548.1 802.0,546.0 802.5,543.5 804.5,543.7 807.2,548.0 808.5,549.1 810.5,549.7 836.5,549.6 836.5,1116.0 362.5,1116.0 362.5,1043.1 376.5,1043.8 392.5,1046.8 400.5,1047.7 414.5,1044.3 424.2,1040.0 428.8,1036.0 433.7,1030.0 450.5,998.0 456.5,989.6 462.5,984.5 470.5,980.1 474.5,977.1 494.5,968.8 499.9,964.0 504.9,958.0 506.2,956.0 507.5,950.0 507.1,942.0 505.1,938.0 502.1,936.0 496.5,934.9 488.5,935.2 478.5,937.0 458.5,945.5 452.5,946.1 448.5,945.5 446.5,944.6 437.0,934.0 432.5,930.9 426.5,928.8 411.8,926.0 406.5,923.6 403.7,920.0 399.7,908.0 398.5,906.3 396.5,905.9 394.5,906.5 392.5,908.0 390.7,912.0 390.3,914.0 391.0,920.0 395.4,930.0 395.4,932.0 394.7,934.0 392.0,938.0 386.5,941.8 380.2,944.0 372.5,944.9 362.5,944.0 362.5,429.3 368.5,429.1 376.5,427.4 400.5,414.5ZM444.5,789.8 440.2,792.0 436.5,795.0 433.0,800.0 431.5,804.0 430.7,808.0 431.1,812.0 432.9,818.0 435.0,822.0 440.5,827.2 444.5,829.1 448.5,830.1 460.5,830.3 484.5,828.4 488.5,828.9 491.0,830.0 492.5,831.3 500.2,842.0 513.0,858.0 514.9,864.0 516.8,878.0 518.5,883.2 520.5,883.9 522.5,883.6 540.5,877.8 548.5,872.5 554.7,866.0 557.9,860.0 558.9,856.0 559.1,846.0 558.1,834.0 556.7,828.0 554.5,822.9 552.5,819.9 548.5,816.4 542.5,813.7 538.5,813.1 530.5,813.1 510.5,814.6 501.7,814.0 498.5,812.7 496.5,811.0 489.9,802.0 484.5,796.2 480.5,793.1 476.5,791.0 470.5,789.1 460.5,788.1 450.5,788.5ZM514.5,650.0 510.5,651.4 506.5,653.6 499.2,660.0 490.5,673.8 487.3,678.0 481.3,684.0 470.5,693.3 466.4,698.0 462.4,704.0 460.0,710.0 461.9,718.0 466.0,726.0 481.2,746.0 490.5,760.3 492.5,762.8 494.5,763.8 498.5,761.9 504.3,756.0 508.1,750.0 511.7,742.0 514.3,734.0 517.6,710.0 529.7,676.0 532.5,666.0 532.9,662.0 532.5,660.0 528.5,655.0 524.5,652.1 520.5,650.2 516.5,649.5ZM600.5,665.8 594.5,667.4 586.5,670.9 578.5,677.5 573.4,684.0 571.8,690.0 571.2,710.0 569.6,718.0 566.5,723.9 560.9,730.0 558.0,734.0 554.5,742.0 552.9,748.0 551.6,756.0 551.5,760.0 552.5,765.0 554.4,770.0 556.5,773.2 560.5,776.8 564.5,778.9 572.5,779.2 578.5,778.0 584.5,774.9 588.5,771.5 591.4,768.0 595.0,762.0 599.7,750.0 601.7,746.0 611.5,734.0 613.8,730.0 615.3,726.0 617.2,718.0 620.7,698.0 621.3,690.0 620.5,682.8 617.2,674.0 612.5,667.4 610.5,666.0 608.5,665.6ZM800.5,557.6 800.0,560.0 800.5,560.1 800.7,558.0ZM620.5,843.9 612.5,847.3 610.5,849.1 608.5,852.1 605.9,858.0 605.1,870.0 606.5,886.6 611.8,908.0 611.4,926.0 612.2,934.0 613.8,938.0 616.5,941.5 618.5,942.8 622.5,943.8 626.5,943.0 630.5,940.0 632.5,936.8 634.5,931.7 634.8,860.0 634.5,855.7 633.2,850.0 630.5,845.0 628.5,843.7 626.5,843.1ZM727.9,514.0 728.8,514.0 729.3,516.0 728.5,520.1 726.6,518.0 726.8,516.0Z"/>
<path fill="#ff7400" fill-rule="evenodd" d="M419.8,426.0 424.5,424.4 432.5,424.6 440.5,426.6 446.5,429.5 450.5,434.6 453.5,440.0 458.6,460.0 462.1,468.0 467.3,474.0 478.5,482.5 486.5,486.5 494.5,488.5 510.5,487.9 516.5,486.7 519.0,494.0 528.1,512.0 528.8,518.0 528.4,524.0 527.2,528.0 524.5,532.2 520.5,535.2 508.5,541.7 504.5,545.3 502.6,548.0 500.6,552.0 499.1,558.0 498.9,562.0 500.0,566.0 502.9,572.0 506.5,576.6 510.5,580.1 516.5,583.8 524.5,585.5 540.5,586.7 546.5,589.4 550.5,592.5 554.5,597.2 557.1,602.0 564.5,625.1 566.5,628.0 570.5,630.7 576.5,631.7 594.5,632.0 612.5,636.0 618.5,634.9 622.5,632.5 624.6,630.0 626.4,626.0 630.7,612.0 636.5,604.1 641.4,596.0 652.5,571.3 658.5,562.1 662.5,559.7 664.5,559.3 666.5,559.5 668.5,560.5 674.5,565.5 682.7,576.0 688.5,581.7 692.5,584.0 702.5,586.2 706.5,588.4 708.1,592.0 708.5,596.3 707.7,602.0 705.1,612.0 704.4,622.0 705.2,634.0 706.5,639.4 708.5,643.2 710.5,645.5 714.5,647.7 718.5,648.1 730.5,647.5 734.5,645.2 742.5,642.2 744.5,640.3 745.2,638.0 745.2,636.0 743.9,628.0 745.1,624.0 754.4,614.0 752.6,612.0 753.9,610.0 758.5,608.4 762.5,602.4 764.5,600.7 768.5,598.9 774.5,599.7 778.5,598.9 784.5,595.8 797.2,588.0 812.5,580.1 822.5,574.2 830.5,571.5 836.5,570.8 836.5,1116.0 362.5,1116.0 362.5,1049.5 375.1,1050.0 392.5,1054.3 400.5,1055.1 408.5,1052.8 422.5,1047.3 427.5,1044.0 432.2,1040.0 438.8,1032.0 452.5,1008.3 460.5,997.0 465.9,992.0 479.3,982.0 494.5,973.1 502.4,966.0 509.1,958.0 510.4,956.0 512.5,950.0 518.8,922.0 520.9,916.0 523.5,912.0 530.5,905.3 534.5,900.6 544.7,884.0 554.5,875.4 558.5,871.0 561.6,866.0 564.2,858.0 563.7,848.0 560.7,824.0 558.5,816.9 556.7,814.0 554.5,811.9 550.5,809.8 544.5,808.4 538.5,808.0 518.5,808.2 510.5,806.3 505.6,804.0 500.5,800.4 488.0,788.0 484.5,785.9 480.5,784.5 472.5,783.4 458.5,782.8 448.5,782.8 444.5,783.6 436.5,786.7 432.5,789.8 429.3,794.0 427.6,798.0 426.2,804.0 425.8,810.0 426.9,820.0 428.7,826.0 430.5,829.4 432.7,832.0 436.5,834.7 440.5,836.3 446.5,837.6 470.5,837.7 480.5,840.1 484.7,842.0 490.8,846.0 494.5,849.3 498.4,854.0 501.2,858.0 502.3,862.0 502.7,868.0 502.0,880.0 502.2,886.0 506.6,906.0 506.0,912.0 503.4,918.0 500.5,921.2 496.5,923.7 492.5,924.5 488.5,923.3 487.0,922.0 485.9,920.0 485.3,916.0 485.0,906.0 483.9,902.0 482.5,899.1 479.9,896.0 476.5,894.0 470.5,893.1 462.5,897.4 454.5,904.0 451.3,908.0 446.5,917.1 442.9,920.0 438.5,921.3 434.5,921.8 422.5,921.0 416.5,918.4 411.7,914.0 408.4,908.0 404.5,895.7 402.0,892.0 400.5,890.7 398.5,890.2 394.5,890.7 390.5,891.9 384.5,895.4 380.2,900.0 374.5,909.9 370.5,915.3 366.5,918.0 362.5,918.7 362.5,450.7 376.5,450.1 388.5,446.5 394.5,443.4 412.5,430.4ZM512.5,645.4 506.5,648.6 500.5,652.9 490.3,662.0 482.5,670.0 459.0,698.0 455.5,704.0 453.4,710.0 454.8,718.0 458.4,726.0 463.0,732.0 472.5,741.1 477.9,748.0 483.7,758.0 488.5,771.1 490.5,773.4 492.5,774.5 494.5,774.3 498.5,771.7 502.5,768.1 506.5,763.5 512.4,754.0 524.5,730.3 528.5,724.5 532.5,721.6 538.5,718.6 540.5,716.7 544.2,716.0 543.7,714.0 541.1,710.0 535.6,706.0 532.5,702.0 531.1,698.0 530.5,694.0 530.7,688.0 531.5,684.0 534.5,676.0 540.0,664.0 540.9,660.0 538.5,656.0 536.5,653.8 531.8,650.0 526.5,646.9 518.5,644.0 516.5,644.0ZM610.5,647.3 594.5,656.3 582.5,663.8 574.5,669.7 570.1,674.0 566.1,680.0 564.1,686.0 564.5,704.0 563.9,710.0 562.5,712.1 558.5,715.0 554.5,716.6 547.2,718.0 546.5,720.0 547.3,734.0 544.5,760.0 545.4,774.0 547.2,780.0 550.5,785.0 554.5,788.9 560.5,792.1 564.5,793.1 576.5,789.5 592.5,781.9 600.5,776.7 603.3,774.0 606.2,770.0 611.9,758.0 623.8,742.0 626.9,736.0 627.6,730.0 626.2,712.0 626.3,690.0 625.6,682.0 623.7,674.0 620.9,666.0 614.5,651.6 612.5,648.3ZM642.5,805.7 638.5,806.7 634.5,808.4 622.4,822.0 608.5,835.7 604.5,840.8 601.4,846.0 597.6,856.0 596.8,864.0 596.7,900.0 597.6,906.0 602.5,922.2 603.6,930.0 603.6,938.0 603.1,944.0 601.6,950.0 599.4,954.0 592.5,964.1 590.2,970.0 587.9,980.0 586.8,992.0 586.7,998.0 587.8,1004.0 588.5,1005.1 590.5,1006.2 596.5,1006.7 608.5,1004.7 612.5,1004.7 624.5,1008.4 626.5,1006.0 626.9,1004.0 626.5,1001.6 620.5,999.1 618.2,996.0 616.3,988.0 615.9,978.0 617.2,970.0 620.2,964.0 624.5,960.5 634.5,955.7 638.5,951.0 641.4,944.0 643.7,932.0 646.3,906.0 646.7,896.0 647.0,862.0 646.0,834.0 648.1,824.0 652.5,815.9 652.7,814.0 650.5,808.4 648.5,805.5Z"/>
<path fill="#ff4c00" fill-rule="evenodd" d="M408.2,486.0 414.5,485.9 420.5,487.3 422.5,488.1 430.5,495.5 434.3,498.0 440.5,500.5 446.5,501.9 456.5,502.0 480.5,500.1 508.5,499.7 510.5,500.5 513.6,508.0 516.5,512.0 517.2,514.0 516.9,522.0 515.5,526.0 512.8,530.0 502.5,540.4 498.6,546.0 496.0,554.0 495.4,562.0 497.0,568.0 500.5,575.0 504.5,580.2 512.9,588.0 514.6,592.0 514.7,598.0 512.5,607.1 512.0,612.0 513.4,620.0 516.5,627.9 518.5,628.6 523.7,620.0 528.5,606.4 530.5,603.0 534.5,600.1 540.5,598.9 544.5,601.1 547.8,604.0 550.5,607.4 552.5,611.4 554.9,622.0 556.7,636.0 556.5,638.7 555.3,644.0 553.8,646.0 550.5,647.4 546.5,647.5 540.5,646.6 518.5,635.4 516.5,636.0 492.5,652.5 478.5,660.0 472.5,665.8 463.1,682.0 451.3,698.0 447.7,706.0 446.7,710.0 446.8,712.0 447.5,718.0 449.6,726.0 452.1,732.0 454.5,736.1 458.5,739.5 470.5,745.5 476.8,754.0 479.4,760.0 479.4,766.0 478.5,770.1 475.5,774.0 471.2,776.0 466.5,776.1 460.5,775.0 456.5,773.4 452.3,770.0 449.8,766.0 446.5,758.9 444.5,760.3 435.8,772.0 424.7,782.0 422.5,785.1 419.9,794.0 416.5,816.7 414.2,826.0 409.4,838.0 400.5,855.8 394.5,869.4 392.5,872.0 388.5,875.5 380.5,879.9 376.5,881.8 370.5,883.6 362.5,884.9 362.5,501.7 374.5,501.0 382.5,499.1 390.5,495.5 400.5,488.2ZM657.3,574.0 658.5,572.7 662.5,572.3 666.5,573.3 670.5,575.6 674.5,578.8 678.5,583.1 681.7,588.0 683.6,592.0 685.3,600.0 684.9,612.0 685.3,616.0 686.6,620.0 691.5,630.0 693.6,636.0 700.5,668.9 705.4,686.0 704.3,696.0 700.5,698.3 696.5,702.0 693.6,706.0 692.8,708.0 693.1,710.0 694.8,714.0 697.9,718.0 700.5,720.0 704.5,721.9 710.5,721.8 718.5,719.3 723.5,716.0 728.5,710.7 730.5,710.9 732.5,712.0 738.5,718.0 742.5,721.0 746.5,721.8 748.5,720.7 749.6,718.0 749.4,716.0 743.6,702.0 745.2,692.0 743.8,684.0 742.5,680.6 740.8,678.0 735.2,672.0 735.6,670.0 740.0,666.0 744.5,660.5 748.5,661.0 752.5,660.2 759.9,646.0 762.5,642.5 766.1,640.0 774.5,636.6 776.5,635.3 789.8,620.0 798.5,612.0 804.5,610.2 812.5,609.7 818.5,610.4 832.5,614.0 836.5,614.4 836.5,1116.0 362.5,1116.0 362.5,1058.6 372.5,1059.0 392.5,1063.6 400.5,1063.7 408.5,1060.7 422.5,1054.2 430.5,1048.6 437.7,1042.0 443.9,1034.0 458.5,1010.4 464.8,1002.0 478.2,990.0 498.5,974.0 504.7,968.0 511.8,960.0 514.7,956.0 518.3,948.0 523.9,926.0 528.0,918.0 532.5,913.1 541.1,906.0 548.7,892.0 552.5,886.8 564.5,875.6 569.8,872.0 575.1,866.0 577.2,862.0 578.2,858.0 571.8,844.0 569.9,838.0 568.9,832.0 570.0,824.0 572.5,818.9 576.5,815.1 588.4,808.0 602.5,804.4 606.5,804.5 608.5,805.1 610.5,806.8 610.9,808.0 603.4,816.0 599.9,822.0 591.4,844.0 587.6,856.0 586.9,860.0 587.5,878.0 587.0,896.0 587.4,904.0 588.5,908.6 595.2,924.0 596.5,930.0 596.3,934.0 594.5,940.0 592.5,943.4 588.5,947.5 582.3,952.0 579.2,956.0 577.2,962.0 572.8,980.0 573.4,990.0 575.5,1004.0 577.7,1010.0 582.5,1017.6 586.5,1021.3 588.5,1022.3 596.5,1023.0 610.5,1021.8 618.5,1021.9 622.5,1018.0 625.5,1014.0 629.6,1004.0 634.0,996.0 633.3,994.0 627.9,990.0 625.0,986.0 623.1,980.0 624.0,976.0 625.7,972.0 628.9,968.0 642.5,959.2 645.8,956.0 647.0,954.0 649.8,946.0 654.5,922.1 658.5,905.9 662.5,898.2 664.5,893.0 664.7,880.0 663.4,874.0 663.0,860.0 661.7,854.0 661.3,848.0 661.3,838.0 663.2,828.0 662.2,818.0 659.3,810.0 654.5,804.2 646.5,787.2 644.5,784.6 636.9,784.0 634.5,783.0 632.5,780.1 631.8,778.0 631.1,772.0 631.9,766.0 634.5,759.6 638.5,757.9 642.5,757.4 644.5,758.6 646.5,762.0 648.5,762.3 648.7,760.0 648.5,757.0 644.5,756.6 643.7,754.0 641.7,734.0 640.6,728.0 639.1,722.0 634.4,708.0 632.6,696.0 629.2,660.0 631.4,654.0 639.4,644.0 642.3,638.0 642.6,636.0 638.1,622.0 637.6,616.0 638.0,612.0 646.0,596.0 652.5,581.5ZM753.9,622.0 756.5,621.3 758.4,622.0 758.8,626.0 758.3,630.0 755.9,634.0 754.5,635.1 750.5,636.6 750.0,634.0 748.5,632.6 748.1,628.0 748.5,626.7 750.5,624.6ZM542.3,676.0 546.5,674.4 550.5,675.0 552.5,677.4 553.2,680.0 553.5,686.0 552.3,690.0 550.5,692.8 548.5,694.4 546.5,695.2 542.5,695.5 540.5,695.0 538.4,692.0 537.2,688.0 537.0,686.0 538.0,682.0 540.5,677.3ZM524.0,754.0 528.5,752.4 530.5,752.9 532.6,756.0 533.6,764.0 534.2,784.0 533.6,788.0 532.5,792.0 531.4,794.0 528.5,796.6 522.5,798.7 516.5,798.8 510.8,796.0 506.5,792.7 502.7,788.0 500.9,784.0 503.0,780.0 511.9,768.0 516.5,760.4 518.5,757.9ZM447.0,850.0 456.5,848.7 464.5,848.6 470.5,849.3 476.1,852.0 481.6,856.0 483.3,858.0 483.9,864.0 482.5,870.0 480.5,873.4 478.2,876.0 450.5,897.2 445.3,902.0 440.3,908.0 436.5,911.6 430.5,914.2 426.5,914.8 422.5,914.3 418.5,911.6 416.5,909.3 414.7,906.0 414.3,898.0 415.4,892.0 417.4,888.0 424.5,879.9 431.6,864.0 435.1,858.0 440.5,852.9Z"/>
<path fill="#ff2400" fill-rule="evenodd" d="M491.6,514.0 496.5,513.3 504.3,514.0 504.3,516.0 502.5,522.0 496.5,533.0 494.2,540.0 489.8,564.0 490.5,568.0 492.5,570.4 498.0,580.0 504.0,588.0 505.3,592.0 505.7,598.0 504.7,614.0 505.6,628.0 505.4,632.0 504.5,635.1 502.2,638.0 494.5,644.1 490.5,646.0 474.3,652.0 470.5,654.3 466.5,659.0 457.8,676.0 445.5,694.0 441.7,702.0 439.8,710.0 441.1,734.0 438.4,742.0 431.5,756.0 426.5,763.7 417.5,772.0 413.1,778.0 406.0,798.0 397.7,812.0 384.5,841.6 377.1,856.0 374.9,858.0 370.5,859.7 362.5,860.5 362.5,552.1 376.5,551.3 387.3,548.0 394.5,543.4 402.5,534.5 406.5,531.1 411.9,528.0 417.6,526.0 424.5,524.5 434.5,524.1 444.5,524.4 460.5,526.1 470.5,525.7 476.5,523.3ZM657.9,582.0 658.5,581.2 662.5,580.7 666.5,581.2 670.5,582.6 674.5,585.2 676.5,587.2 679.5,592.0 681.2,598.0 681.3,604.0 680.0,610.0 675.9,622.0 675.5,626.0 676.6,630.0 682.5,637.7 684.2,642.0 686.5,650.3 687.9,660.0 686.4,672.0 681.0,688.0 680.3,696.0 680.9,704.0 674.5,707.3 669.1,712.0 667.9,714.0 666.9,720.0 666.1,722.0 658.5,732.7 657.8,732.0 657.3,730.0 657.1,726.0 658.4,710.0 656.2,706.0 648.5,697.8 644.2,692.0 641.5,686.0 640.3,676.0 641.1,668.0 643.5,662.0 654.3,650.0 656.6,646.0 658.1,642.0 658.3,636.0 650.5,626.9 647.3,622.0 645.6,618.0 644.6,612.0 653.2,590.0 655.1,586.0ZM540.2,612.0 540.8,612.0 542.5,613.7 543.6,616.0 544.9,620.0 545.3,624.0 545.1,628.0 544.1,632.0 542.5,634.6 540.5,635.9 537.7,634.0 536.1,632.0 535.4,630.0 535.0,626.0 536.5,618.7 538.5,614.2ZM828.1,658.0 832.5,656.9 836.5,656.7 836.5,1116.0 362.5,1116.0 362.5,1069.9 390.2,1072.0 400.5,1071.6 410.8,1068.0 422.5,1062.4 428.5,1058.4 434.5,1053.4 442.5,1045.3 448.3,1038.0 463.6,1014.0 470.5,1004.7 492.5,984.4 507.2,970.0 520.4,956.0 523.5,950.0 526.8,932.0 528.1,928.0 530.5,923.4 536.5,916.7 546.5,909.2 556.5,893.5 560.5,889.6 564.5,887.0 568.5,887.2 572.5,888.8 574.5,890.6 576.5,893.6 579.1,902.0 581.9,920.0 583.4,924.0 586.9,930.0 586.5,932.0 584.5,932.6 580.7,932.0 576.5,929.6 572.5,928.5 568.5,928.9 566.5,929.6 564.5,931.2 563.7,934.0 563.3,940.0 564.2,956.0 561.9,964.0 556.5,975.0 554.6,980.0 554.8,984.0 555.6,988.0 557.2,992.0 564.5,1005.6 570.5,1022.2 574.0,1028.0 577.8,1032.0 582.5,1035.1 588.5,1037.2 612.5,1037.1 616.5,1031.7 620.8,1024.0 626.9,1016.0 632.5,1002.8 641.0,992.0 641.2,990.0 634.5,986.2 631.2,982.0 630.5,980.0 632.0,976.0 634.5,973.0 636.5,971.7 648.5,966.9 652.5,964.6 654.5,962.8 656.5,959.5 658.7,950.0 659.7,942.0 661.8,934.0 663.3,924.0 665.1,918.0 668.3,902.0 668.5,880.0 667.4,870.0 668.5,859.0 676.5,858.7 680.5,857.8 682.5,856.7 686.5,852.9 696.5,841.2 706.5,831.5 710.5,826.1 714.5,817.3 719.2,800.0 721.4,794.0 724.9,788.0 733.4,778.0 736.7,772.0 738.8,766.0 742.9,750.0 746.3,742.0 750.7,736.0 769.2,718.0 775.6,710.0 776.6,704.0 775.4,690.0 775.9,686.0 776.5,685.3 780.5,684.5 794.5,685.8 798.5,685.4 800.5,684.5 808.5,677.8 822.5,660.9ZM461.8,754.0 464.5,752.5 468.5,752.5 470.5,753.5 472.2,756.0 473.7,760.0 472.7,764.0 470.5,767.0 468.5,767.3 464.5,766.0 460.6,762.0 459.6,760.0 459.5,758.0ZM450.3,866.0 454.5,867.0 457.4,870.0 458.0,872.0 458.1,876.0 456.2,882.0 446.5,889.5 442.5,890.2 438.5,890.0 437.0,888.0 436.7,882.0 439.4,876.0 442.5,870.8 444.9,868.0 446.5,866.6ZM424.6,900.0 426.5,899.1 428.5,899.1 429.2,900.0 428.5,903.6 426.5,906.0 424.0,906.0 423.4,904.0Z"/>
<path fill="#ff0000" fill-rule="evenodd" d="M464.2,550.0 470.5,548.8 474.5,548.6 486.5,549.3 486.9,550.0 487.4,554.0 484.8,574.0 484.8,580.0 486.5,583.9 492.4,586.0 494.1,588.0 496.5,594.9 497.5,604.0 497.7,620.0 497.3,626.0 495.9,632.0 494.5,634.8 492.5,636.6 486.5,638.8 470.5,642.9 466.5,645.3 462.0,650.0 459.6,654.0 454.5,665.4 450.9,672.0 446.5,678.4 439.8,686.0 435.7,694.0 434.0,700.0 432.6,708.0 431.6,726.0 430.5,733.0 428.5,738.4 424.5,746.0 422.5,748.6 418.5,750.9 412.5,756.7 402.6,768.0 400.4,772.0 399.6,784.0 397.2,790.0 392.2,798.0 376.5,818.4 370.5,821.6 366.5,822.7 362.5,822.9 362.5,574.4 386.5,574.7 416.5,576.4 422.5,576.3 428.5,575.4 434.5,573.5 438.5,571.4 442.5,568.0 448.5,559.8 452.0,556.0 458.4,552.0ZM660.1,588.0 662.5,587.0 666.5,586.3 670.5,587.1 672.5,588.1 674.8,590.0 677.4,594.0 678.6,598.0 678.8,602.0 678.1,606.0 676.5,609.8 672.5,614.9 666.5,618.5 658.5,620.7 656.5,619.3 653.9,616.0 652.0,612.0 652.0,610.0 655.3,596.0 658.5,589.1ZM831.2,756.0 836.5,755.6 836.5,1116.0 362.5,1116.0 362.5,1077.9 388.5,1079.0 400.5,1078.3 410.5,1075.4 424.5,1070.0 430.5,1067.2 436.5,1063.0 440.5,1058.9 453.9,1042.0 468.8,1018.0 478.3,1006.0 492.5,991.6 501.8,980.0 516.5,965.4 526.0,960.0 530.2,956.0 530.8,952.0 530.9,936.0 531.4,932.0 533.1,928.0 536.5,923.4 540.5,919.9 552.5,916.9 554.5,915.9 555.8,914.0 557.6,906.0 558.5,904.3 561.7,900.0 564.5,897.9 567.9,900.0 569.4,902.0 571.1,906.0 570.9,908.0 569.1,912.0 566.5,914.8 564.5,916.3 558.5,918.0 557.0,920.0 555.1,940.0 553.7,948.0 551.4,954.0 543.6,966.0 541.8,972.0 540.8,980.0 540.5,992.0 540.5,1001.0 541.2,1006.0 542.5,1010.0 549.0,1022.0 551.6,1028.0 554.0,1040.0 556.1,1046.0 558.9,1050.0 562.5,1053.0 564.5,1054.1 574.5,1055.0 582.5,1054.7 600.5,1052.3 606.5,1052.7 610.6,1054.0 612.5,1052.5 622.5,1027.3 624.2,1024.0 630.0,1016.0 630.5,1013.1 631.7,1012.0 632.5,1007.8 634.4,1006.0 634.8,1004.0 638.5,999.6 647.0,992.0 654.7,982.0 657.0,976.0 659.4,966.0 663.4,944.0 666.5,932.3 668.5,931.8 678.5,931.8 682.5,930.6 684.5,929.0 698.5,913.3 752.5,857.1 756.6,852.0 759.9,846.0 767.4,822.0 770.5,815.3 774.2,810.0 820.5,761.0 824.5,758.1Z"/>
<path fill="#d40020" fill-rule="evenodd" d="M663.6,592.0 666.5,590.6 670.5,590.8 672.5,591.9 674.5,594.0 676.2,598.0 676.4,602.0 674.5,607.4 672.5,609.8 668.5,611.8 664.5,611.8 662.5,611.2 660.5,609.9 658.5,606.5 658.3,602.0 659.2,598.0 661.5,594.0ZM399.8,598.0 434.5,597.6 442.5,598.0 448.5,599.1 458.5,603.5 470.5,611.5 470.9,614.0 470.4,618.0 468.6,624.0 465.6,630.0 460.5,636.0 453.6,642.0 450.5,646.0 448.7,650.0 446.5,660.6 440.0,666.0 431.6,680.0 426.8,694.0 424.4,704.0 422.5,714.2 420.5,734.0 419.3,738.0 415.7,746.0 412.6,750.0 406.5,755.9 400.5,758.7 398.6,764.0 389.9,778.0 387.7,786.0 384.5,791.2 380.5,796.2 376.5,800.3 374.5,801.4 368.5,803.6 362.5,804.2 362.5,598.2ZM829.7,868.0 836.5,867.6 836.5,1116.0 362.5,1116.0 362.5,1084.7 390.5,1085.9 400.5,1085.6 408.5,1083.6 422.5,1078.8 436.5,1075.3 443.4,1072.0 446.5,1069.2 448.9,1066.0 455.7,1054.0 464.5,1040.6 470.5,1029.1 488.0,1006.0 496.5,996.1 507.0,980.0 516.5,971.0 520.5,969.7 524.5,969.6 528.5,971.3 530.8,974.0 533.0,980.0 533.0,988.0 531.5,1008.0 532.7,1030.0 528.2,1054.0 531.2,1060.0 534.5,1063.1 538.5,1065.5 562.5,1077.8 566.5,1079.2 572.5,1079.5 588.5,1078.8 598.5,1079.8 610.5,1078.8 618.5,1075.7 624.5,1071.4 630.0,1064.0 634.5,1054.6 641.5,1042.0 646.5,1028.0 651.1,1018.0 656.5,1007.8 660.7,1002.0 666.5,997.7 680.5,993.0 686.5,989.5 690.5,985.2 698.5,973.6 702.5,970.1 708.6,966.0 712.5,962.4 720.5,950.1 724.5,946.1 728.5,943.7 740.5,939.5 746.8,936.0 751.4,932.0 778.5,903.9 784.5,899.8 798.5,894.5 803.2,892.0 808.5,887.0 814.5,877.2 818.5,872.6 822.5,869.8ZM539.4,928.0 540.5,926.9 542.5,926.7 544.5,927.3 546.5,928.6 548.2,932.0 547.4,938.0 545.9,942.0 542.8,946.0 540.5,947.1 538.5,944.4 537.5,942.0 536.5,936.0 536.8,932.0Z"/>
<path fill="#ac0040" fill-rule="evenodd" d="M665.6,596.0 668.5,594.5 670.5,594.8 672.5,596.4 673.3,598.0 673.6,602.0 672.5,604.7 670.5,606.5 668.5,607.0 666.5,606.5 664.2,604.0 663.7,600.0 664.2,598.0ZM390.9,674.0 398.5,672.9 400.5,673.2 404.5,675.5 408.5,679.6 415.0,690.0 420.5,695.3 420.8,700.0 416.5,732.6 414.5,733.6 406.5,733.5 400.5,734.2 396.5,736.0 391.6,740.0 387.4,746.0 384.6,754.0 383.6,760.0 383.1,776.0 379.1,782.0 376.5,784.9 368.5,788.8 362.5,790.1 362.5,691.5 368.5,690.4 372.5,688.3 376.5,684.9 383.1,678.0 386.5,675.8ZM515.5,978.0 518.5,976.6 520.5,977.0 522.5,978.0 524.6,980.0 525.6,986.0 525.2,992.0 519.3,1022.0 516.9,1030.0 511.5,1042.0 504.5,1060.1 494.1,1078.0 493.4,1080.0 492.0,1090.0 492.1,1098.0 495.5,1110.0 496.5,1116.0 486.8,1116.0 486.3,1110.0 484.4,1106.0 481.3,1104.0 474.5,1103.1 470.5,1103.4 468.5,1104.9 465.6,1110.0 464.5,1116.0 362.5,1116.0 362.5,1091.4 400.5,1093.7 424.5,1089.1 446.5,1089.7 450.5,1088.5 452.5,1087.2 454.5,1085.1 456.3,1082.0 470.5,1051.6 477.3,1042.0 484.5,1028.5 498.5,1009.7 503.9,1000.0 510.8,984.0 513.2,980.0ZM829.7,994.0 836.5,993.8 836.5,1116.0 621.7,1116.0 622.9,1106.0 623.4,1104.0 625.8,1100.0 629.3,1096.0 639.9,1086.0 650.5,1073.2 658.5,1067.0 672.5,1061.1 677.2,1058.0 684.6,1052.0 688.5,1049.8 694.5,1047.7 700.5,1046.5 706.5,1046.1 714.5,1046.7 728.5,1049.1 734.5,1048.0 737.7,1046.0 739.5,1044.0 746.2,1030.0 748.5,1027.9 752.5,1025.8 760.5,1025.1 782.5,1025.5 790.5,1024.6 796.5,1023.1 800.5,1021.0 802.5,1019.0 804.5,1015.0 807.3,1006.0 808.5,1003.8 812.2,1000.0 816.5,997.3 820.5,995.5Z"/>
<path fill="#880060" fill-rule="evenodd" d="M795.6,1074.0 836.5,1074.7 836.5,1116.0 672.1,1116.0 671.3,1112.0 671.6,1110.0 673.3,1108.0 680.1,1104.0 688.9,1100.0 702.5,1096.9 712.5,1096.3 724.5,1096.9 740.5,1099.9 746.5,1099.4 752.5,1097.0 764.3,1084.0 771.8,1078.0 778.5,1075.7ZM362.5,1100.0 362.5,1098.5 370.5,1098.7 380.5,1099.8 400.5,1103.6 420.5,1103.4 424.5,1103.9 427.2,1106.0 430.4,1110.0 431.3,1112.0 431.9,1116.0 362.5,1116.0ZM658.2,1104.0 660.5,1103.3 664.5,1103.5 666.6,1104.0 667.7,1106.0 668.1,1108.0 667.8,1110.0 664.0,1116.0 656.2,1116.0 656.5,1110.0Z"/>
<path fill="#600088" fill-rule="evenodd" d="M824.9,1100.0 830.5,1098.8 836.5,1098.5 836.5,1116.0 813.3,1116.0 814.5,1110.0 817.8,1104.0 820.5,1101.9ZM362.5,1114.0 362.5,1112.5 366.5,1112.9 369.2,1114.0 370.7,1116.0 362.5,1116.0Z"/>
</g>
<g clip-path="url(#mapclip)">
<path fill="none" stroke="#000" stroke-width="1" stroke-linejoin="round" d="M590.5,473.7 588.5,475.3 586.5,480.1 585.5,488.0 586.0,492.0 587.3,496.0 590.5,500.0 598.6,504.0 604.5,505.6 610.5,506.4 622.5,504.0 632.5,501.1 640.3,498.0 644.5,494.9 646.3,492.0 645.8,490.0 643.0,488.0 637.3,486.0 620.5,481.7 598.5,474.0 594.5,473.2 590.5,473.7M538.5,609.2 536.2,614.0 535.6,622.0 536.9,628.0 538.5,630.3 540.5,631.5 542.5,631.0 544.9,628.0 546.5,622.0 546.5,616.1 545.4,612.0 542.5,608.6 540.5,608.1 538.5,609.2M362.5,821.6 368.5,821.0 372.5,819.6 378.5,815.2 392.8,798.0 400.5,785.4 408.5,774.8 425.3,756.0 428.4,750.0 432.2,738.0 433.1,730.0 433.4,714.0 436.8,700.0 442.1,688.0 453.8,668.0 460.5,654.0 470.5,645.5 474.5,643.7 486.5,641.0 492.5,639.0 497.2,636.0 500.1,632.0 502.2,626.0 504.4,610.0 508.3,594.0 507.4,588.0 500.5,578.1 499.0,572.0 498.4,564.0 499.3,558.0 504.0,546.0 508.5,541.2 510.5,540.2 526.5,534.4 530.6,532.0 534.7,528.0 540.5,519.7 547.9,514.0 549.5,512.0 549.3,510.0 544.5,499.6 538.5,483.0 533.7,460.0 531.2,438.0 529.2,430.0 528.2,422.0 529.4,404.0 529.1,398.0 523.9,380.0 521.9,370.0 521.4,362.0 521.8,344.0 520.7,336.0 521.1,330.0 519.5,320.0 517.0,314.0 516.4,308.0 514.5,305.1 508.3,300.0 509.0,286.0 507.8,280.0 508.0,268.0 507.5,262.0 510.6,258.0 518.5,251.9 520.5,250.7 528.5,249.0 532.5,247.3 538.5,242.5 540.5,239.9 546.5,238.5 558.5,233.5 564.5,232.5 572.5,237.8 575.9,242.0 577.1,246.0 578.4,258.0 580.5,262.9 584.5,266.0 586.5,266.2 588.5,265.4 590.5,263.3 593.5,258.0 598.1,246.0 598.9,240.0 597.9,222.0 599.2,218.0 600.5,217.3 605.4,222.0 614.5,228.2 622.5,231.1 628.5,231.0 637.1,228.0 646.5,220.6 648.4,218.0 650.6,212.0 652.5,209.1 658.5,213.7 672.5,220.5 689.6,224.0 690.2,226.0 689.7,240.0 686.5,256.0 685.8,264.0 686.5,268.0 690.5,274.8 700.5,285.3 704.5,288.6 710.5,291.9 720.5,294.7 744.5,297.6 752.5,302.7 758.5,308.6 764.0,316.0 770.9,330.0 774.8,336.0 775.0,338.0 774.0,342.0 774.4,348.0 776.3,352.0 780.7,356.0 780.8,358.0 779.0,362.0 779.2,366.0 781.3,370.0 785.1,374.0 786.5,377.5 790.5,383.2 791.7,386.0 793.5,392.0 794.9,402.0 796.5,408.0 797.0,414.0 798.8,420.0 799.3,440.0 794.0,460.0 793.7,466.0 795.3,472.0 798.5,476.6 800.3,478.0 800.8,480.0 798.2,484.0 796.8,488.0 796.4,494.0 797.4,502.0 793.5,514.0 790.9,536.0 786.2,552.0 780.0,564.0 778.5,565.7 770.5,569.8 768.5,571.7 764.5,574.0 760.5,578.0 758.3,582.0 757.1,590.0 752.5,595.2 750.9,598.0 749.9,602.0 749.8,606.0 748.6,608.0 740.5,616.0 736.4,622.0 735.7,628.0 737.6,634.0 737.6,636.0 736.5,637.2 728.5,641.0 725.1,644.0 722.8,648.0 722.5,652.9 724.6,660.0 720.0,664.0 717.3,668.0 716.3,672.0 716.5,675.0 717.6,678.0 720.5,681.3 732.5,686.1 734.1,692.0 732.5,695.3 718.5,687.8 708.5,685.8 702.9,684.0 697.0,652.0 694.5,629.9 691.1,614.0 690.8,610.0 692.2,598.0 691.8,592.0 689.9,588.0 682.7,578.0 679.9,570.0 678.8,564.0 678.9,562.0 681.1,558.0 687.7,552.0 705.4,544.0 711.3,540.0 716.5,535.4 728.5,531.0 732.5,528.2 736.0,524.0 737.9,520.0 738.8,516.0 738.3,512.0 735.1,508.0 730.5,505.6 726.5,505.3 720.5,507.4 716.0,512.0 712.5,522.4 710.5,526.4 708.5,528.2 706.5,528.9 702.5,528.6 696.5,526.1 682.5,514.3 680.5,514.0 678.5,514.7 674.5,517.8 664.5,528.3 660.5,533.7 658.8,538.0 657.5,558.0 656.8,562.0 646.8,590.0 637.2,612.0 636.8,616.0 637.6,622.0 641.9,634.0 642.6,638.0 642.0,642.0 640.3,646.0 633.1,658.0 631.9,664.0 632.5,676.0 634.5,696.2 636.5,706.4 640.9,722.0 642.7,734.0 640.8,742.0 640.3,748.0 638.4,754.0 637.5,762.0 635.5,768.0 635.4,776.0 634.4,780.0 634.4,784.0 635.8,790.0 639.0,796.0 640.6,802.0 643.0,806.0 650.5,824.0 650.4,828.0 651.5,832.0 651.6,838.0 653.1,844.0 653.6,856.0 655.2,862.0 655.6,876.0 657.1,882.0 656.9,900.0 655.6,906.0 655.4,916.0 654.1,920.0 653.8,934.0 652.6,938.0 652.1,950.0 650.7,954.0 649.3,962.0 645.9,970.0 642.4,976.0 638.9,980.0 631.6,994.0 626.0,1002.0 625.4,1006.0 623.6,1010.0 623.0,1014.0 618.5,1018.6 615.3,1024.0 614.2,1028.0 610.7,1034.0 607.7,1042.0 603.3,1050.0 600.3,1058.0 596.5,1065.0 593.6,1072.0 593.0,1076.0 590.9,1080.0 590.6,1082.0 589.4,1102.0 587.7,1108.0 587.7,1116.0M564.5,893.0 560.7,896.0 557.9,900.0 556.2,904.0 553.0,916.0 550.4,918.0 540.5,921.9 536.7,926.0 534.6,930.0 533.9,936.0 534.7,942.0 537.1,948.0 538.5,949.9 540.5,951.2 542.5,951.3 546.5,949.3 550.5,944.4 553.0,938.0 555.6,924.0 556.5,921.6 558.5,919.9 566.5,917.7 570.2,916.0 572.6,914.0 574.5,911.0 575.4,908.0 575.6,904.0 574.0,898.0 570.5,894.0 566.5,892.7 564.5,893.0M520.5,971.8 516.5,973.6 512.1,978.0 509.4,982.0 506.2,990.0 501.7,1008.0 500.2,1024.0 500.5,1026.0 502.5,1027.0 508.5,1026.0 516.5,1021.8 520.5,1016.2 526.9,1000.0 530.4,986.0 530.8,982.0 530.3,978.0 528.5,974.5 526.5,972.7 524.5,971.9 520.5,971.8M391.5,1116.0 391.0,1112.0 389.9,1110.0 385.6,1106.0 381.4,1104.0 376.5,1102.7 362.5,1101.5M655.7,232.0 660.5,230.7 664.5,231.8 667.5,234.0 670.2,238.0 671.9,244.0 671.9,264.0 673.6,272.0 677.5,280.0 687.3,294.0 695.0,310.0 698.5,314.4 702.5,316.4 706.5,316.3 722.5,309.2 728.5,307.8 732.5,307.6 740.5,308.4 748.0,310.0 752.5,311.7 756.5,314.6 760.5,320.2 768.4,340.0 769.4,350.0 773.2,358.0 773.9,368.0 775.8,372.0 780.5,378.4 782.9,384.0 782.7,398.0 785.2,420.0 784.8,440.0 781.0,482.0 779.4,490.0 775.5,504.0 774.8,510.0 776.0,516.0 783.6,532.0 784.7,538.0 781.0,550.0 776.5,558.1 772.2,562.0 770.5,562.5 760.5,570.4 753.4,578.0 752.5,580.2 746.5,582.1 736.5,583.9 732.5,583.3 730.5,582.2 728.5,580.4 722.5,572.0 715.0,566.0 713.4,564.0 713.9,562.0 720.5,557.3 726.5,551.7 740.5,535.0 744.7,528.0 747.0,520.0 747.4,512.0 745.0,506.0 740.5,501.6 732.5,498.6 720.5,497.8 712.5,498.8 709.3,500.0 704.5,503.3 702.5,503.6 692.5,497.0 678.6,492.0 671.2,486.0 666.5,483.5 654.5,480.3 630.5,475.2 620.5,471.0 604.5,461.7 598.5,459.8 592.5,459.1 585.5,460.0 578.9,464.0 574.8,470.0 570.8,482.0 568.9,486.0 566.5,488.8 564.5,489.9 562.5,489.9 556.5,486.5 550.5,480.4 546.3,474.0 542.0,464.0 538.0,436.0 536.7,422.0 536.9,412.0 538.9,400.0 538.6,394.0 537.5,390.0 530.5,376.3 527.3,366.0 525.1,350.0 525.1,330.0 523.2,318.0 521.0,314.0 519.5,306.0 516.6,302.0 512.1,298.0 512.1,284.0 511.0,278.0 512.2,262.0 516.5,258.9 532.5,253.3 538.5,249.3 542.5,245.7 554.5,241.7 556.3,242.0 557.8,244.0 558.8,248.0 557.5,258.0 557.7,262.0 559.2,266.0 560.7,268.0 566.0,272.0 582.5,281.2 586.5,282.9 590.5,282.8 594.5,280.5 598.6,276.0 601.9,270.0 610.8,250.0 614.5,244.6 618.5,241.0 622.5,238.8 626.5,237.6 634.5,236.1 648.5,235.0 655.7,232.0M608.5,327.8 601.0,330.0 588.5,335.5 574.5,339.9 572.1,342.0 571.3,344.0 571.6,346.0 572.9,348.0 574.5,349.0 580.5,349.8 620.1,346.0 626.5,344.0 628.5,342.0 628.6,340.0 627.7,338.0 622.2,332.0 618.5,329.7 614.5,328.2 608.5,327.8M728.6,596.0 730.5,595.3 732.5,596.6 734.5,600.6 736.9,610.0 736.3,612.0 732.4,618.0 730.9,622.0 730.4,634.0 726.5,635.7 720.9,640.0 717.0,644.0 716.5,645.8 714.5,644.7 712.5,642.1 711.2,638.0 711.2,634.0 712.4,628.0 715.4,618.0 718.5,610.5 724.5,600.8 728.6,596.0M544.5,683.1 543.1,684.0 542.4,686.0 544.5,687.7 547.0,686.0 546.9,684.0 544.5,683.1M462.5,753.0 460.5,755.0 459.3,758.0 460.2,762.0 462.5,764.9 464.5,766.3 468.5,767.3 470.5,766.7 472.5,764.5 473.3,762.0 473.5,760.0 472.5,756.6 470.5,753.9 468.5,752.6 464.5,752.2 462.5,753.0M518.5,773.8 516.5,775.7 514.5,778.8 513.3,782.0 513.2,784.0 514.5,786.5 516.5,788.2 518.5,788.7 521.3,788.0 523.9,786.0 525.4,782.0 524.5,777.5 522.5,774.1 520.5,773.3 518.5,773.8M362.5,853.6 368.5,852.7 372.5,851.0 376.5,847.6 378.5,844.9 388.5,828.6 397.7,812.0 405.7,800.0 412.1,782.0 414.5,776.9 418.4,772.0 426.8,764.0 432.1,756.0 439.1,742.0 441.2,736.0 441.5,730.0 440.2,712.0 440.5,708.0 442.1,702.0 445.9,694.0 458.2,676.0 466.4,660.0 469.6,656.0 472.5,653.6 476.5,651.6 494.5,645.1 508.3,636.0 510.0,634.0 511.6,630.0 511.6,616.0 512.5,610.0 514.5,605.2 516.5,602.2 518.5,600.5 520.5,600.1 522.5,601.2 524.5,605.2 525.1,614.0 523.7,628.0 524.5,632.0 527.5,636.0 538.5,642.4 544.5,643.7 548.5,643.4 552.5,642.0 554.5,640.3 555.9,638.0 557.0,630.0 556.1,614.0 554.1,606.0 549.4,598.0 544.5,593.7 540.5,592.0 526.5,591.8 522.5,590.6 510.5,582.3 506.5,578.5 503.3,574.0 501.3,568.0 501.2,562.0 502.5,556.0 506.5,547.2 512.5,543.3 518.5,541.6 526.5,541.4 534.5,542.5 538.5,544.0 543.4,548.0 545.8,552.0 549.1,560.0 552.3,564.0 556.5,565.3 564.5,564.6 572.9,562.0 577.1,560.0 578.2,558.0 576.9,556.0 570.5,551.8 566.6,548.0 565.2,546.0 563.9,542.0 565.0,538.0 566.9,536.0 575.4,530.0 582.5,526.9 586.5,526.6 588.5,527.2 590.5,528.7 592.5,531.5 596.3,540.0 597.9,542.0 602.5,543.6 606.5,543.1 610.5,541.2 612.5,539.2 614.2,536.0 619.4,522.0 624.5,516.9 630.5,514.0 636.5,512.3 648.5,511.3 654.5,512.4 656.0,514.0 656.1,518.0 652.6,534.0 649.9,562.0 646.5,578.0 644.1,586.0 640.9,594.0 631.2,610.0 629.5,614.0 627.0,632.0 623.7,644.0 622.6,652.0 622.6,660.0 626.0,674.0 627.8,686.0 628.6,710.0 630.9,732.0 630.1,738.0 627.7,744.0 618.7,760.0 614.0,776.0 610.5,783.5 604.5,789.6 588.5,801.8 580.7,810.0 573.6,820.0 572.1,824.0 571.2,830.0 571.8,836.0 574.6,844.0 580.5,853.4 582.5,855.2 584.5,856.1 586.5,855.2 595.9,838.0 601.7,830.0 605.5,826.0 631.0,806.0 634.5,804.4 637.6,808.0 642.8,818.0 645.7,826.0 645.9,830.0 646.9,834.0 647.1,840.0 648.0,844.0 648.9,858.0 649.8,862.0 650.7,884.0 651.0,914.0 649.8,920.0 649.8,932.0 648.6,938.0 648.2,948.0 645.4,960.0 644.5,961.5 642.5,964.6 635.4,970.0 632.1,974.0 630.7,978.0 631.1,982.0 629.5,988.0 627.2,994.0 623.5,1000.0 622.7,1004.0 621.0,1008.0 620.4,1012.0 615.0,1018.0 612.6,1022.0 611.3,1026.0 607.6,1032.0 603.3,1042.0 599.4,1048.0 585.5,1078.0 584.5,1083.7 574.2,1094.0 569.0,1102.0 568.7,1106.0 571.9,1116.0M580.5,873.7 564.5,881.7 558.5,887.0 552.5,895.4 546.5,908.5 543.6,912.0 536.5,918.3 532.4,924.0 530.5,928.2 529.3,934.0 529.8,954.0 528.8,958.0 524.8,962.0 516.5,967.6 505.6,980.0 496.8,996.0 490.1,1006.0 477.6,1030.0 469.9,1052.0 464.1,1076.0 463.8,1080.0 464.5,1083.0 466.4,1086.0 468.5,1087.4 470.5,1088.0 474.5,1087.4 480.5,1083.8 488.7,1074.0 508.1,1056.0 518.5,1045.2 528.5,1032.4 530.6,1028.0 531.7,1024.0 534.4,1004.0 540.5,973.4 542.0,970.0 544.5,966.7 554.3,958.0 557.3,954.0 559.4,948.0 562.0,936.0 563.7,932.0 566.5,929.9 570.5,929.7 574.5,931.1 580.5,934.4 584.5,935.4 586.5,935.2 588.5,934.1 589.9,932.0 590.6,930.0 590.3,926.0 586.3,914.0 585.0,908.0 584.2,880.0 582.5,874.4 580.5,873.7M446.5,875.0 444.5,877.7 443.8,880.0 444.2,882.0 446.5,883.0 448.8,882.0 450.2,880.0 450.6,878.0 450.1,876.0 448.5,874.5 446.5,875.0M447.1,1116.0 447.9,1106.0 446.5,1102.4 442.5,1099.1 434.5,1095.8 428.5,1094.6 422.5,1094.4 406.5,1097.0 398.5,1097.4 376.5,1094.8 362.5,1094.2M635.3,246.0 640.5,245.7 646.5,247.4 653.2,252.0 656.2,256.0 658.6,264.0 660.1,278.0 661.6,286.0 670.8,308.0 673.2,316.0 677.0,334.0 678.5,338.2 680.5,341.2 682.5,342.4 686.5,342.3 702.5,335.2 718.5,330.8 728.5,325.9 732.5,325.2 736.5,325.8 740.8,328.0 744.5,331.9 748.5,338.6 754.5,352.3 766.3,388.0 769.2,408.0 769.9,418.0 768.9,452.0 767.6,464.0 763.5,474.0 759.7,480.0 754.5,485.5 748.5,489.4 744.5,490.5 738.5,491.1 726.5,490.3 722.5,488.9 718.5,486.1 714.4,480.0 706.5,454.7 700.9,440.0 698.7,430.0 698.0,420.0 698.6,414.0 704.5,399.7 707.1,390.0 706.6,386.0 705.6,384.0 703.8,382.0 700.5,380.8 694.5,381.0 680.5,383.5 674.5,386.4 671.3,390.0 670.4,396.0 672.2,410.0 671.9,416.0 669.4,422.0 660.5,435.3 658.6,440.0 659.2,444.0 664.7,456.0 666.0,462.0 664.6,466.0 660.5,469.0 656.5,470.0 650.5,469.9 642.5,469.2 634.5,467.7 626.5,463.8 612.5,452.0 606.5,449.7 596.5,449.6 582.5,451.5 572.5,454.8 564.5,460.0 562.5,460.6 560.5,460.2 558.5,458.8 556.5,456.0 545.9,422.0 544.8,414.0 546.5,407.3 555.3,392.0 558.5,382.2 570.5,379.7 578.5,377.1 588.5,373.0 602.0,366.0 608.5,363.8 616.5,362.8 638.5,362.2 646.5,361.0 648.5,360.1 650.5,358.0 652.3,354.0 654.3,344.0 652.5,332.2 650.5,326.0 648.5,323.7 646.5,323.0 634.2,320.0 624.7,314.0 620.7,310.0 616.1,304.0 613.0,298.0 611.7,294.0 611.5,288.0 612.9,272.0 614.1,266.0 615.7,262.0 619.5,256.0 623.5,252.0 629.8,248.0 635.3,246.0M523.0,264.0 532.2,264.0 538.5,266.0 550.5,275.1 568.5,284.9 572.8,288.0 576.9,292.0 579.1,296.0 581.2,302.0 582.6,308.0 582.1,312.0 578.5,314.0 564.4,316.0 560.5,318.0 557.7,322.0 556.7,328.0 556.7,344.0 558.5,370.0 558.0,378.0 557.4,380.0 556.5,380.8 552.5,381.0 546.5,380.2 540.5,377.6 536.0,372.0 532.6,364.0 530.8,354.0 529.6,336.0 527.1,318.0 524.5,312.0 523.9,308.0 522.3,304.0 519.3,300.0 515.1,296.0 514.9,284.0 513.8,278.0 514.5,269.5 517.3,266.0 523.0,264.0M634.3,522.0 636.5,521.8 640.5,522.8 644.1,526.0 646.2,532.0 646.8,538.0 646.0,550.0 641.6,580.0 639.2,588.0 636.5,593.5 623.1,610.0 616.5,620.9 613.4,624.0 610.5,625.7 604.5,626.9 580.5,628.3 574.5,627.8 570.5,626.2 568.5,624.3 566.5,620.7 564.2,612.0 561.7,592.0 561.8,588.0 563.4,584.0 566.9,580.0 570.5,577.3 586.9,570.0 592.5,566.7 604.1,556.0 612.5,549.5 618.5,542.3 626.5,527.7 630.5,523.9 634.3,522.0M514.4,546.0 520.5,545.1 526.5,546.3 532.5,549.9 535.6,554.0 538.1,562.0 537.6,570.0 535.4,576.0 533.7,578.0 530.5,580.0 522.5,581.5 516.5,580.6 509.7,576.0 506.5,572.4 504.5,568.9 503.2,564.0 503.8,558.0 504.5,556.1 506.5,551.7 508.0,550.0 514.4,546.0M621.5,834.0 628.5,832.1 632.5,832.6 635.0,836.0 637.0,844.0 638.8,858.0 640.7,898.0 643.6,930.0 643.2,944.0 641.6,952.0 638.5,957.4 630.5,964.3 626.1,970.0 624.6,974.0 624.0,978.0 624.5,982.0 626.0,986.0 625.6,988.0 620.5,999.2 619.6,1004.0 617.5,1010.0 616.7,1012.0 612.6,1016.0 610.2,1020.0 600.0,1040.0 594.5,1048.2 574.5,1059.0 566.5,1062.1 560.5,1062.4 548.8,1060.0 542.5,1057.2 541.1,1056.0 540.2,1054.0 541.3,1050.0 550.8,1036.0 553.7,1028.0 553.5,1018.0 549.5,1002.0 549.9,992.0 551.5,984.0 554.5,978.3 566.4,966.0 574.5,953.9 578.5,950.7 590.5,945.9 594.5,942.6 597.4,938.0 599.2,932.0 599.4,926.0 595.3,904.0 597.3,866.0 598.2,858.0 601.4,850.0 607.4,842.0 612.5,837.9 621.5,834.0M454.5,851.8 448.5,852.8 444.5,854.5 440.1,858.0 435.9,864.0 428.2,882.0 420.7,892.0 418.9,896.0 418.2,900.0 418.6,904.0 420.5,907.4 422.5,908.9 424.5,909.6 428.5,909.3 434.5,906.4 442.5,898.8 464.4,882.0 475.2,868.0 476.8,864.0 477.4,860.0 476.9,858.0 474.5,855.2 470.5,852.8 467.4,852.0 460.5,851.5 454.5,851.8M362.5,875.8 372.5,875.1 378.5,873.5 384.5,870.0 390.4,864.0 407.1,836.0 413.3,824.0 416.0,816.0 420.4,794.0 422.9,786.0 425.8,782.0 436.9,772.0 444.5,763.3 446.5,763.3 451.3,770.0 453.4,772.0 456.7,774.0 462.5,775.8 468.5,776.5 472.5,775.9 476.1,774.0 478.5,770.9 479.7,766.0 479.7,762.0 478.8,758.0 476.9,754.0 470.5,745.6 458.5,738.9 454.5,735.2 451.6,730.0 449.4,724.0 447.2,712.0 448.1,706.0 451.7,698.0 463.5,682.0 472.5,666.8 476.9,662.0 502.5,646.3 514.5,640.8 516.5,640.4 520.5,640.9 532.5,646.7 542.1,654.0 545.1,658.0 545.7,660.0 544.8,664.0 538.5,673.9 534.5,683.8 534.1,690.0 535.5,696.0 537.9,700.0 540.5,702.5 552.5,708.4 556.5,709.8 558.5,709.6 560.5,708.4 561.6,706.0 563.2,684.0 566.0,678.0 570.5,672.8 576.5,668.3 584.5,663.8 596.5,659.5 602.5,658.4 606.5,658.4 610.5,659.8 612.5,661.4 616.5,666.8 619.1,672.0 621.8,680.0 622.9,686.0 622.7,698.0 619.7,728.0 618.5,732.9 616.5,737.5 607.6,752.0 600.1,768.0 594.5,775.5 584.5,783.6 564.5,795.0 560.5,795.9 554.5,796.0 550.5,794.8 548.5,793.4 544.3,788.0 542.5,783.4 541.3,778.0 540.9,766.0 542.4,740.0 541.1,734.0 540.5,733.1 538.5,732.6 536.5,733.2 532.5,736.1 522.5,748.3 518.5,753.7 510.5,767.6 501.1,782.0 501.0,786.0 504.4,792.0 508.5,796.3 514.5,800.4 518.5,801.8 524.5,802.5 542.5,801.6 546.5,802.1 550.5,803.7 556.5,809.1 559.7,814.0 561.5,820.0 566.8,854.0 566.8,860.0 563.0,870.0 558.9,876.0 550.1,886.0 546.7,892.0 540.6,906.0 531.8,916.0 528.2,922.0 525.6,930.0 523.4,950.0 521.2,956.0 501.1,980.0 492.5,992.0 481.1,1006.0 477.1,1012.0 468.1,1028.0 451.4,1068.0 448.5,1072.8 445.4,1076.0 438.5,1079.3 424.5,1082.2 408.5,1087.2 400.5,1089.0 392.5,1089.2 362.5,1087.6M637.4,260.0 638.5,259.8 640.5,260.6 642.5,263.9 642.7,266.0 642.2,268.0 640.5,270.4 638.5,271.6 636.5,271.8 633.7,270.0 632.8,268.0 632.7,266.0 634.5,261.9 637.4,260.0M631.3,382.0 634.5,381.1 638.5,381.4 642.5,382.7 646.5,385.4 648.7,388.0 650.7,392.0 652.3,400.0 651.9,410.0 651.0,414.0 649.1,418.0 644.5,424.4 640.5,428.7 636.5,431.7 634.5,432.4 630.5,431.4 624.5,426.8 619.9,420.0 618.2,414.0 618.8,406.0 621.7,392.0 625.4,386.0 631.3,382.0M728.7,412.0 730.5,411.4 732.5,411.8 735.8,414.0 737.3,416.0 740.1,424.0 741.7,436.0 741.5,446.0 739.5,456.0 736.5,461.6 732.5,464.2 730.5,464.3 728.5,462.8 726.5,458.5 724.4,450.0 722.5,438.5 722.8,428.0 724.1,420.0 726.5,414.1 728.7,412.0M629.8,550.0 632.5,548.4 633.4,550.0 633.6,554.0 630.5,578.0 629.2,582.0 626.7,586.0 606.5,604.6 600.5,609.2 594.5,611.9 590.5,612.6 586.5,612.1 584.5,610.7 582.0,606.0 581.6,600.0 582.6,594.0 585.4,588.0 588.5,584.8 600.5,575.3 612.5,563.4 629.8,550.0M515.1,552.0 518.5,551.3 522.5,552.5 526.5,555.8 528.5,560.0 528.6,564.0 526.7,568.0 524.5,570.3 520.5,572.2 516.5,572.1 514.5,571.2 510.9,568.0 508.7,564.0 508.4,562.0 509.2,558.0 512.0,554.0 515.1,552.0M511.5,652.0 514.5,651.2 518.5,651.3 522.5,653.0 526.5,656.0 528.5,658.4 530.0,662.0 529.9,668.0 527.3,678.0 516.5,706.6 513.4,732.0 510.6,742.0 506.5,751.2 502.5,757.3 498.5,761.2 494.5,762.6 492.5,761.7 490.5,759.6 481.4,746.0 466.4,726.0 462.2,718.0 461.0,714.0 460.6,710.0 462.8,704.0 466.8,698.0 472.3,692.0 487.7,678.0 499.6,660.0 504.5,655.6 511.5,652.0M594.3,676.0 598.5,675.2 602.5,675.2 606.5,676.2 610.5,678.7 612.8,682.0 614.3,686.0 614.6,692.0 613.6,698.0 610.5,705.8 603.2,718.0 598.5,723.6 591.0,730.0 588.3,734.0 589.0,754.0 587.8,760.0 585.9,764.0 582.5,768.3 578.5,771.1 572.5,772.6 566.5,771.9 562.8,770.0 560.8,768.0 557.4,762.0 556.7,756.0 558.1,748.0 560.5,741.8 564.5,736.0 575.4,728.0 576.9,726.0 577.9,722.0 577.5,708.0 577.9,698.0 578.8,692.0 581.0,686.0 586.5,679.8 590.5,677.4 594.3,676.0M444.7,790.0 450.5,788.7 460.5,788.3 470.5,789.4 476.5,791.4 481.2,794.0 485.9,798.0 496.5,810.9 498.5,812.5 502.5,814.4 512.5,815.6 536.5,815.0 542.5,816.3 546.5,818.5 550.3,822.0 552.9,826.0 555.2,832.0 556.1,838.0 556.7,848.0 556.2,856.0 554.5,861.2 551.6,866.0 548.1,870.0 542.5,874.6 529.7,880.0 526.5,882.0 520.5,888.9 518.5,890.1 516.5,888.8 514.6,882.0 514.6,868.0 512.5,859.3 509.0,854.0 490.5,832.2 486.5,830.2 482.5,829.7 458.5,831.2 448.5,830.8 442.5,829.0 438.5,826.5 436.0,824.0 433.5,820.0 431.5,814.0 430.9,808.0 431.7,804.0 433.3,800.0 436.5,795.4 440.5,792.1 444.7,790.0M362.5,922.0 368.5,921.2 372.5,919.1 376.5,915.3 384.9,904.0 390.5,900.1 394.5,898.7 398.5,898.9 400.5,900.2 402.5,902.6 409.1,914.0 414.5,918.7 422.5,921.8 432.5,922.7 440.5,922.4 446.5,920.8 450.5,917.2 458.5,906.0 464.5,901.9 470.5,900.0 472.5,900.3 475.4,902.0 478.9,906.0 481.9,918.0 484.5,922.5 488.5,924.7 492.5,925.2 496.5,924.7 506.5,921.9 510.5,921.5 512.5,922.5 514.2,926.0 515.0,934.0 513.5,950.0 511.7,956.0 509.5,960.0 499.8,972.0 483.9,986.0 468.1,1002.0 462.5,1010.5 447.1,1040.0 440.5,1049.3 431.1,1060.0 425.9,1064.0 418.5,1068.0 408.5,1072.4 400.5,1074.9 388.5,1075.5 362.5,1074.0M600.4,978.0 604.5,977.7 606.5,979.1 608.0,982.0 608.8,990.0 607.7,996.0 604.4,1002.0 600.5,1006.1 593.3,1010.0 590.5,1010.4 588.5,1009.9 586.5,1008.0 585.1,1004.0 586.5,996.1 588.5,991.8 594.5,983.6 597.5,980.0 600.4,978.0M634.3,390.0 636.5,389.4 640.5,389.7 644.3,392.0 646.5,396.0 647.1,402.0 645.9,408.0 642.5,414.0 638.5,417.6 634.5,419.2 632.5,418.5 630.0,416.0 628.5,412.0 628.3,408.0 630.3,396.0 632.2,392.0 634.3,390.0M514.4,556.0 516.5,554.9 520.5,555.4 522.5,556.9 524.5,560.0 524.3,564.0 523.0,566.0 520.5,567.9 516.5,568.1 514.5,567.0 512.1,564.0 511.7,560.0 514.4,556.0M614.9,570.0 618.5,568.8 620.7,570.0 621.2,572.0 621.0,576.0 618.5,582.0 612.5,588.7 602.5,596.2 598.5,598.3 596.5,598.6 594.5,598.0 593.8,596.0 593.9,594.0 596.6,588.0 608.5,575.1 614.9,570.0M513.4,656.0 518.5,656.2 521.6,658.0 523.6,660.0 525.2,664.0 525.0,672.0 523.3,678.0 520.5,684.3 513.5,694.0 511.5,698.0 510.4,704.0 508.7,730.0 506.5,738.8 504.3,744.0 500.5,750.0 496.5,753.2 494.5,753.6 492.5,752.7 490.5,750.9 475.8,732.0 469.1,720.0 467.1,714.0 466.8,710.0 469.2,704.0 474.0,698.0 480.5,692.5 490.4,686.0 494.5,682.0 496.5,678.4 500.2,668.0 503.7,662.0 508.5,657.9 513.4,656.0M592.6,682.0 596.5,680.5 600.5,680.1 606.5,682.0 608.5,683.8 609.9,686.0 610.7,692.0 608.5,699.1 602.5,706.8 594.5,713.6 590.5,715.4 588.5,715.4 586.5,713.9 584.7,710.0 584.1,704.0 584.3,696.0 586.5,687.9 589.6,684.0 592.6,682.0M570.2,740.0 574.5,738.4 578.5,739.0 580.5,740.5 582.5,743.1 584.5,749.4 584.5,756.0 582.5,761.6 578.5,765.8 574.5,767.2 570.5,766.9 566.5,764.9 563.9,762.0 562.4,758.0 562.4,754.0 563.8,748.0 566.5,743.3 570.2,740.0M447.3,794.0 454.5,792.8 462.5,793.0 468.5,794.1 474.5,796.8 478.6,800.0 483.3,806.0 484.3,810.0 483.4,814.0 482.3,816.0 480.5,818.1 476.5,821.0 466.5,824.6 454.5,825.7 448.5,825.1 444.5,823.6 440.5,820.5 438.5,818.0 435.9,812.0 435.5,808.0 436.6,804.0 438.9,800.0 442.5,796.5 447.3,794.0M522.6,820.0 532.5,818.7 540.5,819.7 544.5,821.9 546.9,824.0 549.8,828.0 551.6,832.0 552.5,836.0 552.9,844.0 551.5,856.0 549.7,860.0 546.6,864.0 540.5,868.4 536.5,868.9 532.5,868.2 528.5,866.3 526.5,864.6 509.3,842.0 504.7,834.0 504.8,830.0 507.7,826.0 514.5,822.3 522.6,820.0M362.5,939.6 370.5,940.1 376.5,939.8 382.5,938.3 386.5,936.4 391.9,932.0 393.2,930.0 395.7,922.0 396.5,920.7 398.5,919.8 404.8,924.0 408.5,925.5 432.5,930.3 438.5,933.1 446.5,938.4 450.5,939.7 454.5,940.1 460.5,939.6 474.5,936.0 482.5,934.7 494.5,933.7 500.5,934.2 504.5,935.9 506.7,938.0 508.5,942.0 509.1,948.0 507.9,956.0 504.5,961.8 500.5,966.9 494.5,972.6 484.5,978.9 477.8,984.0 468.5,992.5 463.4,998.0 457.0,1008.0 441.7,1038.0 435.4,1046.0 426.5,1054.4 420.5,1058.6 410.5,1064.0 402.5,1067.3 398.5,1068.2 388.5,1068.0 370.5,1064.8 362.5,1064.5M510.6,662.0 514.5,660.7 516.5,660.9 518.5,661.9 520.5,665.2 521.1,670.0 519.7,676.0 516.5,681.4 512.5,684.1 508.5,684.6 506.5,683.5 505.4,682.0 504.2,678.0 504.1,674.0 504.9,670.0 506.5,666.3 510.6,662.0M595.8,686.0 600.5,685.2 603.0,686.0 605.0,688.0 605.8,692.0 604.5,696.0 602.5,698.5 600.5,700.0 596.5,701.2 594.5,700.9 592.5,699.7 590.8,696.0 591.1,692.0 591.9,690.0 593.2,688.0 595.8,686.0M489.5,694.0 492.5,692.9 496.5,692.6 500.5,694.4 503.3,700.0 504.9,708.0 504.8,722.0 503.0,734.0 501.3,738.0 498.5,742.4 496.5,744.2 494.5,745.0 492.5,744.5 488.5,741.2 480.5,731.7 475.2,722.0 473.1,716.0 472.5,712.0 473.2,708.0 477.4,702.0 482.5,697.6 489.5,694.0M572.6,746.0 574.5,745.4 576.8,746.0 578.9,748.0 580.3,752.0 580.2,756.0 579.5,758.0 578.1,760.0 574.5,761.8 572.5,761.6 569.8,760.0 568.4,758.0 568.0,756.0 569.0,750.0 570.5,747.7 572.6,746.0M448.5,798.0 452.5,797.1 458.5,796.9 464.5,797.8 468.5,799.2 472.7,802.0 475.8,806.0 476.4,808.0 475.6,812.0 474.3,814.0 470.5,817.2 463.7,820.0 454.5,821.0 450.5,820.6 446.5,819.2 444.5,817.8 441.4,814.0 440.0,810.0 439.9,808.0 440.5,805.7 442.8,802.0 444.8,800.0 448.5,798.0M524.9,824.0 532.5,822.4 536.5,822.5 540.5,823.5 544.5,826.5 548.1,832.0 549.3,840.0 548.3,850.0 547.1,854.0 545.0,858.0 542.5,860.5 540.5,861.5 538.5,861.7 534.5,860.7 528.5,856.3 520.0,846.0 515.2,838.0 514.0,834.0 514.3,832.0 515.5,830.0 520.5,826.0 524.9,824.0M362.5,950.2 376.5,950.3 388.5,948.6 397.6,946.0 414.5,939.0 420.5,938.0 426.5,939.7 440.5,950.4 444.5,952.9 448.5,954.3 454.5,954.3 460.5,952.9 466.5,950.1 478.5,942.9 484.5,940.8 492.5,939.6 496.5,940.1 500.5,942.1 503.3,946.0 504.6,952.0 503.1,958.0 496.5,966.4 490.5,970.4 476.5,976.5 464.5,985.9 460.4,990.0 454.5,999.1 438.1,1034.0 432.5,1041.3 424.5,1048.3 408.5,1056.5 402.5,1058.8 398.5,1059.6 390.5,1058.5 374.5,1053.7 362.5,1053.0M486.4,710.0 490.5,708.1 492.5,708.6 494.5,711.0 495.2,716.0 494.9,720.0 494.5,722.0 492.5,724.8 490.5,724.7 489.6,724.0 486.3,720.0 485.0,714.0 486.4,710.0M529.2,832.0 532.5,830.4 534.5,830.1 538.5,830.9 540.5,832.5 541.9,836.0 541.7,840.0 540.5,843.7 538.5,845.4 536.5,845.6 532.5,844.0 528.8,840.0 527.5,836.0 527.8,834.0 529.2,832.0M488.3,954.0 490.5,953.3 492.5,953.5 493.4,956.0 490.5,958.0 488.5,957.6 486.9,956.0 488.3,954.0M362.5,968.7 372.5,967.9 392.5,964.2 400.5,963.4 410.5,964.2 418.5,966.1 426.6,970.0 431.5,974.0 435.1,978.0 437.7,984.0 438.5,992.0 437.5,1004.0 430.5,1025.5 426.5,1032.6 420.5,1037.9 410.5,1042.1 400.5,1044.2 394.5,1043.8 374.5,1039.9 362.5,1039.2M362.5,986.5 368.5,984.6 381.2,978.0 390.5,974.4 398.5,972.8 406.5,973.4 412.5,974.9 418.5,977.3 422.5,979.9 424.5,982.0 428.0,990.0 429.5,1000.0 428.5,1008.9 424.2,1024.0 422.5,1027.4 420.3,1030.0 413.8,1034.0 406.5,1036.6 398.5,1037.7 388.5,1036.1 374.5,1032.6 362.5,1031.3M395.7,990.0 400.5,988.0 404.5,988.7 408.5,990.6 412.5,994.0 414.5,996.7 416.1,1000.0 417.0,1004.0 415.5,1012.0 412.0,1020.0 406.5,1025.9 400.5,1028.3 396.5,1027.9 392.4,1026.0 389.8,1024.0 386.6,1020.0 384.5,1013.8 384.2,1008.0 385.6,1002.0 389.4,996.0 395.7,990.0"/>
<path fill="none" stroke="#000" stroke-width="2.1" stroke-linejoin="round" d="M633.3,254.0 638.5,252.4 643.4,254.0 646.9,258.0 648.5,262.0 649.2,266.0 648.2,272.0 644.9,278.0 640.5,281.8 636.5,283.4 632.5,283.1 627.9,280.0 625.1,276.0 623.4,270.0 623.9,266.0 625.9,262.0 628.9,258.0 633.3,254.0M524.1,280.0 526.5,278.9 528.5,279.0 532.5,280.5 549.9,290.0 552.9,292.0 553.5,294.0 552.0,296.0 548.5,298.0 540.5,300.9 534.5,300.9 528.5,299.6 524.5,296.7 522.0,292.0 522.1,284.0 524.1,280.0M538.9,336.0 540.5,334.2 542.5,334.3 544.2,336.0 546.3,340.0 547.1,344.0 547.6,352.0 546.9,358.0 545.1,362.0 542.5,364.0 540.5,363.1 538.5,359.7 536.8,352.0 537.0,342.0 538.9,336.0M627.3,374.0 632.5,372.9 638.5,373.2 644.5,375.1 650.5,379.3 653.9,384.0 655.6,388.0 657.5,396.0 659.0,406.0 659.1,414.0 657.0,420.0 645.6,438.0 640.5,449.5 638.5,451.5 636.5,452.3 634.5,452.1 632.5,451.0 616.3,436.0 608.0,426.0 606.2,420.0 605.9,416.0 606.6,412.0 611.8,392.0 614.0,386.0 616.5,381.6 619.8,378.0 622.6,376.0 627.3,374.0M731.3,386.0 736.5,384.8 742.5,386.1 746.5,389.2 749.6,394.0 753.5,406.0 755.1,414.0 756.4,440.0 755.4,456.0 754.1,462.0 752.1,466.0 745.5,474.0 740.7,478.0 736.5,480.1 730.5,481.1 727.5,480.0 724.5,477.3 722.4,474.0 718.5,465.0 712.6,442.0 711.5,428.0 712.5,416.0 715.5,408.0 724.5,392.8 728.5,387.8 731.3,386.0M562.0,404.0 566.5,402.8 570.5,403.2 574.5,404.6 579.0,408.0 581.8,414.0 582.9,426.0 584.5,428.9 588.9,434.0 589.0,436.0 587.1,438.0 582.5,438.7 578.5,438.4 572.5,436.0 564.5,430.6 557.1,422.0 554.2,416.0 554.4,412.0 556.7,408.0 562.0,404.0M633.7,532.0 636.5,531.9 639.0,534.0 640.9,538.0 641.3,542.0 640.9,550.0 638.3,566.0 637.0,580.0 634.3,588.0 630.5,592.6 618.5,603.9 611.7,612.0 606.5,615.7 598.5,618.6 588.5,620.2 582.5,619.4 578.5,617.6 574.5,613.2 572.6,606.0 572.8,594.0 573.8,590.0 575.8,586.0 579.8,582.0 593.4,574.0 600.5,568.3 619.7,550.0 629.1,536.0 633.7,532.0M512.7,550.0 516.5,548.5 522.5,548.9 528.1,552.0 531.2,556.0 533.0,562.0 532.6,566.0 530.5,570.8 526.5,574.6 520.5,576.5 516.5,576.1 510.5,572.1 507.4,568.0 505.5,562.0 506.2,558.0 508.5,553.7 512.7,550.0M509.6,648.0 514.5,646.4 518.5,646.3 526.5,649.5 530.5,652.4 534.5,656.9 536.0,660.0 536.0,664.0 528.5,688.0 527.5,696.0 527.0,710.0 517.2,740.0 511.1,754.0 504.5,764.8 498.5,771.0 494.5,773.3 492.5,773.4 490.5,772.4 488.5,769.9 482.9,756.0 476.6,746.0 470.5,738.8 463.3,732.0 458.8,726.0 455.2,718.0 454.0,710.0 455.9,704.0 460.5,696.4 483.1,670.0 490.7,662.0 499.5,654.0 504.5,650.5 509.6,648.0M592.2,670.0 600.5,668.5 606.5,669.0 610.5,670.8 614.5,675.3 617.5,682.0 618.6,688.0 618.2,696.0 615.6,708.0 612.5,718.4 609.3,726.0 600.6,738.0 598.3,742.0 593.5,760.0 588.5,769.4 584.5,773.6 578.5,777.4 570.5,779.4 562.5,779.3 558.5,777.5 554.5,774.2 551.1,768.0 549.7,762.0 549.5,758.0 551.9,744.0 553.8,738.0 556.5,732.7 566.5,722.4 569.1,718.0 570.9,710.0 571.6,690.0 573.4,684.0 576.5,680.0 582.5,674.8 586.5,672.3 592.2,670.0M611.9,854.0 616.5,852.9 620.5,854.0 622.9,856.0 624.9,860.0 626.3,870.0 626.1,882.0 624.5,890.3 620.7,900.0 621.2,902.0 628.5,910.2 632.5,917.7 635.3,930.0 634.9,942.0 633.9,946.0 631.9,950.0 621.3,960.0 618.5,965.7 617.5,972.0 617.6,980.0 619.0,986.0 620.7,990.0 620.7,992.0 617.8,998.0 614.4,1010.0 610.4,1014.0 605.4,1022.0 604.5,1024.8 602.5,1027.2 594.5,1029.6 588.5,1030.2 584.5,1029.0 580.5,1026.1 577.3,1022.0 575.4,1018.0 573.6,1012.0 572.3,1004.0 572.7,990.0 575.5,980.0 584.5,965.1 589.2,960.0 601.3,952.0 604.2,948.0 605.6,944.0 608.6,918.0 613.0,902.0 608.5,889.3 607.2,882.0 606.8,874.0 607.1,866.0 608.0,860.0 609.8,856.0 611.9,854.0M362.5,904.0 368.5,902.0 379.8,892.0 384.5,889.0 390.5,886.5 398.5,884.6 402.5,885.0 404.5,886.1 406.5,888.3 408.1,892.0 411.1,904.0 414.2,910.0 418.6,914.0 424.5,916.2 432.5,915.7 438.5,913.4 456.5,897.7 464.5,892.1 470.5,889.0 476.5,888.3 482.5,889.3 488.1,892.0 492.5,896.7 494.5,895.8 498.2,870.0 498.6,864.0 497.5,858.0 492.5,850.9 484.5,844.4 476.5,840.7 468.5,839.1 448.5,839.2 440.5,838.2 434.5,835.9 432.2,834.0 429.3,830.0 427.2,824.0 426.0,816.0 425.8,808.0 426.8,802.0 428.7,796.0 431.1,792.0 434.5,788.5 440.5,785.1 446.5,783.2 454.5,782.8 472.5,783.7 482.5,785.5 488.5,789.0 500.5,801.0 508.5,806.7 516.5,809.3 538.5,810.7 544.5,812.1 548.6,814.0 552.5,817.1 556.7,824.0 559.0,832.0 560.6,846.0 560.9,856.0 559.6,862.0 558.0,866.0 554.5,871.4 543.9,882.0 541.0,886.0 532.4,904.0 524.6,916.0 521.7,926.0 519.1,946.0 515.8,956.0 505.6,970.0 476.1,1002.0 471.3,1008.0 465.5,1018.0 454.8,1040.0 441.6,1062.0 438.0,1066.0 432.2,1070.0 402.5,1081.1 398.5,1081.9 390.5,1082.2 362.5,1081.1M486.1,702.0 490.5,700.4 494.5,700.8 497.8,704.0 500.2,710.0 500.6,718.0 499.7,726.0 497.9,732.0 496.5,734.6 494.5,736.3 492.5,736.5 490.5,735.5 486.5,731.9 482.3,726.0 478.9,718.0 478.2,714.0 478.5,709.9 480.9,706.0 486.1,702.0M450.6,802.0 458.5,801.2 464.5,802.9 468.5,806.0 469.3,808.0 469.0,810.0 467.6,812.0 464.9,814.0 460.5,815.7 454.5,816.3 448.5,814.7 445.7,812.0 444.6,808.0 446.5,804.4 450.6,802.0M526.5,828.0 532.5,826.1 538.5,826.6 542.5,829.1 544.6,832.0 545.8,838.0 545.4,844.0 543.4,850.0 540.5,853.7 538.5,854.2 536.5,853.7 532.5,851.6 528.3,848.0 523.7,842.0 521.9,838.0 521.3,834.0 522.0,832.0 523.6,830.0 526.5,828.0M488.0,946.0 492.5,945.4 494.5,945.8 497.7,948.0 499.0,950.0 500.0,954.0 498.9,958.0 494.5,963.1 490.5,965.2 482.5,966.3 478.5,965.5 476.5,964.5 474.5,962.0 473.9,960.0 474.3,956.0 475.5,954.0 480.5,949.4 488.0,946.0M362.5,958.6 376.5,958.2 406.5,954.4 414.5,954.3 420.5,955.0 428.5,958.4 439.7,966.0 448.2,974.0 451.0,978.0 451.4,980.0 445.0,1004.0 436.4,1026.0 432.0,1034.0 424.5,1041.8 414.5,1046.9 400.5,1051.0 394.5,1050.5 374.5,1046.1 362.5,1045.5"/>
<g fill="none" stroke="#000" stroke-width="2" stroke-linejoin="round" stroke-linecap="round">
<path d="M364.0,788.0 366.0,787.0 378.0,782.0 392.0,774.0 406.0,762.0 416.0,748.0 420.0,732.0 419.0,723.0 420.0,709.0 424.0,697.0 430.0,683.0 436.0,669.0 442.0,655.0 448.0,645.0 458.0,637.0 468.0,627.0 474.0,613.0 478.0,601.0 482.0,587.0 486.0,569.0 490.0,553.0 492.0,541.0 495.0,529.0 501.0,524.0 508.0,515.0 512.0,503.0 515.0,487.0 517.0,471.0 518.0,457.0 520.0,443.0 516.0,433.0 512.0,421.0 508.0,413.0 504.0,407.0 498.0,404.0 488.0,405.0 485.0,411.0 474.0,413.0 469.0,405.0 464.0,393.0 463.0,381.0 472.0,389.0 480.0,393.0 490.0,387.0 500.0,375.0 507.0,361.0 510.0,347.0 513.0,327.0 512.0,310.0 504.0,306.0 501.7,303.3 500.8,290.0 500.0,276.7 499.2,268.3 490.8,268.3 490.0,263.3 496.7,256.7 501.7,250.0 509.2,240.0 517.5,231.7 528.3,236.7 536.7,231.7 544.2,230.0 550.0,226.7 554.2,216.7 556.7,203.3 558.3,186.7 560.0,181.0 565.0,179.5 573.3,180.0 570.8,183.3 563.3,183.0 560.5,178.0 560.8,171.7 557.5,163.3 550.0,161.7 549.2,160.0 553.3,159.2 558.3,160.0 560.8,151.7 561.7,141.7 563.3,135.0 570.0,139.2 576.7,146.7 582.5,150.8 588.3,145.8 595.0,141.7 603.3,145.0 607.5,151.7 608.3,163.3 609.2,180.0 611.7,196.7 613.3,208.3 617.5,216.7 625.0,220.8 633.3,216.7 638.3,210.0 640.8,203.3 640.0,196.7 644.2,185.0 653.3,188.3 659.2,196.7 661.7,203.3 671.0,208.0 681.0,212.0 691.0,202.0 697.0,186.0 700.0,166.0 703.0,154.0 699.0,142.0 689.0,134.0 683.0,138.0 681.0,142.0 671.0,150.0 661.0,147.0 651.0,152.0 633.0,161.0 626.0,156.0 628.0,142.0 630.0,131.0"/>
<path d="M724.0,131.0 720.0,150.0 719.0,170.0 720.0,190.0 722.0,210.0 725.0,234.0 728.0,250.0 733.0,268.0 741.0,280.0 748.0,278.0 755.0,286.0 765.0,298.0 773.0,310.0 779.0,322.0 784.0,330.0 787.5,335.0 783.0,346.0 794.0,355.0 787.5,364.0 796.7,375.0 804.0,384.0 807.6,388.0 805.3,390.3 807.2,394.8 807.7,397.0 809.6,400.6 809.5,405.6 807.3,409.4 810.5,412.0 809.5,413.3 808.4,418.6 810.3,422.8 810.5,427.5 812.3,430.0 812.6,434.4 809.0,437.6 811.8,441.9 811.7,445.2 810.5,448.0 808.1,449.1 806.9,449.9 804.9,452.7 811.2,456.7 806.8,458.0 799.6,459.7 807.4,461.8 806.0,465.0 806.6,460.4 810.0,462.0 811.2,461.7 818.5,462.1 815.7,457.2 815.0,456.0 818.0,456.9 817.8,452.0 820.3,453.4 821.0,455.7 820.4,460.5 813.5,461.4 818.0,463.1 818.7,467.0 819.4,470.2 821.1,471.7 824.0,472.0 822.4,473.9 826.6,477.5 819.9,476.3 821.0,481.3 821.9,484.4 820.5,485.0 822.9,485.9 822.2,489.0 822.4,491.0 817.1,492.3 816.0,494.4 816.9,495.8 818.7,500.0 817.6,498.6 817.4,494.7 816.7,492.8 813.7,492.9 813.0,489.0 813.9,493.0 809.5,492.5 807.0,494.7 802.9,498.2 815.2,496.7 811.6,499.9 813.0,503.0 811.9,506.5 802.5,502.1 803.1,505.5 808.0,511.0 810.3,515.4 806.5,513.9 807.3,517.0 804.1,518.6 805.0,522.0 800.9,523.1 801.1,527.0 803.2,528.8 798.9,531.9 811.5,536.4 802.0,536.0 799.2,538.2 796.6,539.5 799.1,542.3 796.7,545.6 798.1,547.9 797.0,550.0 792.5,551.2 796.1,555.4 798.2,559.2 786.0,554.4 789.3,558.7 792.0,563.0 792.4,564.9 789.4,568.1 793.0,571.8 788.1,571.5 786.0,574.0 781.2,568.0 781.6,579.3 776.6,569.8 774.9,570.2 775.0,578.0 772.1,577.6 771.2,579.4 768.7,581.4 768.6,583.3 767.0,585.0 760.3,589.4 774.3,589.1 770.0,592.0 772.7,596.4 765.2,596.0 767.4,599.7 760.1,598.7 761.7,601.7 762.1,604.0 765.4,606.6 756.6,609.7 763.3,610.0 764.4,612.8 758.1,611.5 758.3,616.4 754.5,613.2 755.0,618.3 751.0,616.9 749.3,618.8 749.6,620.5 742.8,616.3 743.5,618.0 743.3,625.0 745.5,626.8 744.9,628.4 739.0,635.3 747.0,632.5 746.7,636.7 747.8,639.2 743.0,641.9 748.3,643.3 744.5,642.1 744.4,645.3 741.2,642.1 738.3,645.0 737.5,649.2 733.6,647.2 735.5,650.8 730.8,650.0 734.5,650.7 736.9,651.8 729.1,658.9 735.1,658.0 736.7,658.1 740.0,660.0 739.6,664.3 743.3,661.7 741.3,663.6 739.7,667.2 738.1,665.1 732.7,661.4 733.3,668.3 730.6,665.8 731.9,673.1 726.7,671.7 731.4,669.5 733.2,672.3 732.7,677.1 736.0,675.9 738.3,676.7 744.8,673.9 740.7,682.0 743.3,681.7 745.3,683.0 746.1,687.1 749.9,688.5 746.5,692.2 745.0,693.3 738.8,692.1 743.6,697.1 741.4,700.2 741.7,701.7 744.2,701.4 749.5,701.3 743.3,709.2 746.7,710.0 747.8,710.4 751.0,712.3 751.2,716.1 749.1,718.8 751.7,720.0 751.2,722.4 748.1,724.1 748.3,725.0 745.4,727.9 743.1,723.2 741.8,719.8 740.0,720.0 739.6,716.3 730.8,719.3 730.0,718.0 737.0,712.2 733.3,710.0 730.8,710.6 727.7,711.8 732.3,700.7 726.7,705.0 716.7,700.0 706.7,699.0 698.3,700.0 690.0,705.0 685.0,710.0 685.9,706.3 683.0,705.8 680.0,706.7 677.7,710.2 673.7,707.2 673.3,710.0 668.6,708.8 673.3,717.6 672.0,716.9 666.7,716.7 668.7,719.8 670.3,717.9 671.7,720.0 669.6,719.5 670.9,724.7 664.2,724.6 665.0,726.7 663.3,732.5 660.9,734.9 660.0,736.7 656.2,739.1 655.0,743.3 655.6,748.0 654.1,751.0 653.6,754.6 651.7,760.0 652.4,762.6 651.8,765.8 649.0,770.1 647.8,779.7 648.1,778.7 648.0,786.0 651.0,804.0 659.0,820.0 663.0,840.0 665.0,860.0 667.0,880.0 668.0,900.0 665.0,916.0 663.0,936.0 660.0,960.0 655.0,984.0 645.0,992.0 635.0,998.0 629.0,1004.0 628.0,1014.0 621.0,1024.0 615.0,1040.0 609.0,1056.0 603.0,1072.0 599.0,1088.0 600.0,1102.0 597.0,1117.0"/>
<path d="M710.0,218.0 715.0,220.0 717.0,226.0 715.0,238.0 711.0,244.0 706.0,245.0 704.0,240.0 709.0,238.0 710.0,230.0 709.0,222.0Z"/>
<path d="M636.0,291.0 643.0,288.0 650.0,290.0 654.0,295.0 652.0,299.0 648.0,297.0 646.0,302.0 643.0,300.0 640.0,304.0 637.0,298.0Z"/>
<path d="M513.0,876.0 520.0,878.0 526.0,886.0 525.0,896.0 518.0,899.0 511.0,894.0 508.0,884.0Z"/>
<path d="M605.0,441.0 607.0,437.0 611.0,436.0 615.0,439.0 615.0,444.0 611.0,447.0 607.0,446.0Z"/>
<path d="M620.0,459.0 631.0,454.0 636.0,465.0 633.0,477.0 623.0,482.0 617.0,471.0Z"/>
<path d="M498.0,393.0 504.0,391.0 520.0,385.0 518.0,407.0 508.0,401.0 500.0,397.0Z"/>
<path fill="#000" d="M434.0,545.0 437.0,541.0 441.0,539.0 440.0,543.0 437.0,546.0Z"/>
<path fill="#000" d="M384.0,690.0 387.0,685.0 391.0,682.0 392.0,685.0 388.0,691.0 385.0,693.0Z"/>
</g>
</g>
<g stroke="#fff" stroke-width="1.1" fill="none" clip-path="url(#mapclip)" shape-rendering="crispEdges">
<line x1="511" y1="132.0" x2="501.3" y2="1115.5"/>
<line x1="661.3" y1="132.0" x2="660.8" y2="1115.5"/>
<line x1="811.7" y1="132.0" x2="820.3" y2="1115.5"/>
<path d="M364.5,185.8 Q599.5,187.20000000000002 834.5,187.0"/>
<path d="M364.5,383.4 Q599.5,385.0 834.5,385.0"/>
<path d="M364.5,581.3 Q599.5,582.75 834.5,582.6"/>
<path d="M364.5,779.6 Q599.5,781.0999999999999 834.5,781.0"/>
<path d="M364.5,978.0 Q599.5,979.5 834.5,979.4"/>
</g>
<g fill="none" stroke="#fff" stroke-width="2.2" stroke-dasharray="15.7 6.5">
<line x1="418" y1="185.3" x2="418" y2="1061.4"/>
<line x1="781" y1="186.3" x2="781" y2="1061.4"/>
<line x1="426.3" y1="185.2" x2="781" y2="185.6"/>
<line x1="440.3" y1="1061.4" x2="782" y2="1061.4"/>
<line x1="417" y1="1061.4" x2="431.7" y2="1061.4" stroke-dasharray="none"/>
</g>
<rect x="364.5" y="132.0" width="470.0" height="983.5" fill="none" stroke="#000" stroke-width="1.3"/>
<g fill="#fff">
<circle cx="613.4" cy="239" r="3.2"/>
<text x="623" y="244.6" font-size="15.5" font-weight="normal" text-anchor="start" fill="#fff" textLength="71.4" lengthAdjust="spacingAndGlyphs" stroke="#fff" stroke-width="0.6">AomoriAP</text>
<circle cx="720.4" cy="249.6" r="3.2"/>
<text x="729.4" y="255" font-size="15.5" font-weight="normal" text-anchor="start" fill="#fff" textLength="76.6" lengthAdjust="spacingAndGlyphs" stroke="#fff" stroke-width="0.6">MisawaAD</text>
<circle cx="688" cy="495.6" r="3.2"/>
<text x="698" y="501" font-size="15.5" font-weight="normal" text-anchor="start" fill="#fff" textLength="92" lengthAdjust="spacingAndGlyphs" stroke="#fff" stroke-width="0.6">HanamakiAP</text>
<circle cx="656.6" cy="730.4" r="3.2"/>
<text x="664.6" y="736" font-size="15.5" font-weight="normal" text-anchor="start" fill="#fff" textLength="115.4" lengthAdjust="spacingAndGlyphs" stroke="#fff" stroke-width="0.6">KasuminomeAD</text>
<circle cx="634.6" cy="784" r="3.2"/>
<text x="643.6" y="789.6" font-size="15.5" font-weight="normal" text-anchor="start" fill="#fff" textLength="77.8" lengthAdjust="spacingAndGlyphs" stroke="#fff" stroke-width="0.6">KakudaGP</text>
<circle cx="570.4" cy="816" r="3.2"/>
<text x="579.4" y="821.4" font-size="15.5" font-weight="normal" text-anchor="start" fill="#fff" textLength="100.6" lengthAdjust="spacingAndGlyphs" stroke="#fff" stroke-width="0.6">FukushimaSP</text>
<circle cx="570" cy="933.6" r="3.2"/>
<text x="579.4" y="939.6" font-size="15.5" font-weight="normal" text-anchor="start" fill="#fff" textLength="100.6" lengthAdjust="spacingAndGlyphs" stroke="#fff" stroke-width="0.6">FukushimaAP</text>
<circle cx="506.6" cy="987" r="3.2"/>
<text x="515.6" y="992.6" font-size="15.5" font-weight="normal" text-anchor="start" fill="#fff" textLength="74.4" lengthAdjust="spacingAndGlyphs" stroke="#fff" stroke-width="0.6">KuroisoSF</text>
<circle cx="495.6" cy="1038.8" r="3.2"/>
<text x="504.6" y="1044.2" font-size="15.5" font-weight="normal" text-anchor="start" fill="#fff" textLength="93.4" lengthAdjust="spacingAndGlyphs" stroke="#fff" stroke-width="0.6">KinugawaGP</text>
</g>
<text x="511.5" y="131.5" font-size="15.5" font-weight="bold" text-anchor="middle" fill="#000">140E</text>
<text x="661.5" y="131.5" font-size="15.5" font-weight="bold" text-anchor="middle" fill="#000">141E</text>
<text x="811.5" y="131.5" font-size="15.5" font-weight="bold" text-anchor="middle" fill="#000">142E</text>
<text x="502.5" y="1113.2" font-size="15.5" font-weight="bold" text-anchor="middle" fill="#000">140E</text>
<text x="660" y="1113.2" font-size="15.5" font-weight="bold" text-anchor="middle" fill="#000">141E</text>
<text x="368" y="190.6" font-size="15.5" font-weight="bold" text-anchor="end" fill="#000">41N</text>
<text x="366" y="388.6" font-size="15.5" font-weight="bold" text-anchor="end" fill="#000">40N</text>
<text x="360" y="586.6" font-size="15.5" font-weight="bold" text-anchor="end" fill="#000">39N</text>
<text x="357" y="785.1" font-size="15.5" font-weight="bold" text-anchor="end" fill="#000">38N</text>
<text x="394.5" y="984.3000000000001" font-size="15.5" font-weight="bold" text-anchor="middle" fill="#000">37N</text>
<text x="817.5" y="192.6" font-size="15.5" font-weight="bold" text-anchor="start" fill="#000">41N</text>
<text x="819.5" y="390.6" font-size="15.5" font-weight="bold" text-anchor="start" fill="#000">40N</text>
<text x="820.5" y="588.6" font-size="15.5" font-weight="bold" text-anchor="start" fill="#000">39N</text>
<text x="823" y="786.6" font-size="15.5" font-weight="bold" text-anchor="start" fill="#000">38N</text>
<text x="824.6" y="985.1" font-size="15.5" font-weight="bold" text-anchor="start" fill="#000">37N</text>
<text x="334" y="46" font-size="28.6" font-weight="bold" text-anchor="start" fill="#000" textLength="439.5" lengthAdjust="spacingAndGlyphs" stroke="#000" stroke-width="0.5">Surface Dew Point Temperature</text>
<text x="783.5" y="43" font-size="18" font-weight="bold" text-anchor="start" fill="#000" textLength="81.5" lengthAdjust="spacingAndGlyphs" stroke="#000" stroke-width="0.3">(2m AGL)</text>
<text x="303" y="74.6" font-size="24" font-weight="normal" text-anchor="start" fill="#000" textLength="164" lengthAdjust="spacingAndGlyphs" stroke="#000" stroke-width="0.35">Valid 1500 JST</text>
<text x="474.5" y="73.5" font-size="17" font-weight="normal" text-anchor="start" fill="#000" textLength="62.5" lengthAdjust="spacingAndGlyphs" stroke="#000" stroke-width="0.35">(0600Z)</text>
<text x="544" y="74.6" font-size="24" font-weight="normal" text-anchor="start" fill="#000" textLength="195.5" lengthAdjust="spacingAndGlyphs" stroke="#000" stroke-width="0.35">THU 11 Sep 2025</text>
<text x="747.5" y="73.5" font-size="18" font-weight="normal" text-anchor="start" fill="#000" textLength="150" lengthAdjust="spacingAndGlyphs" stroke="#000" stroke-width="0.35">[24hrFcst@1132z]</text>
<text x="338.8" y="97.2" font-size="17.8" font-weight="normal" text-anchor="start" fill="#000" textLength="521.5" lengthAdjust="spacingAndGlyphs" stroke="#000" stroke-width="0.35">DrJack BLIPMAP from RASP 6.0km GFSA Tdif WRF-ARW model</text>
<text x="628" y="1137.5" font-size="19" font-weight="normal" text-anchor="start" fill="#000" textLength="202" lengthAdjust="spacingAndGlyphs" stroke="#000" stroke-width="0.35">Terrain contours: 500 ft</text>
<g shape-rendering="crispEdges">
<rect x="150.20" y="1146" width="34.85" height="10.3" fill="#0000ff"/>
<rect x="184.75" y="1146" width="34.85" height="10.3" fill="#0040f8"/>
<rect x="219.29" y="1146" width="34.85" height="10.3" fill="#0078f8"/>
<rect x="253.84" y="1146" width="34.85" height="10.3" fill="#00b0fc"/>
<rect x="288.38" y="1146" width="34.85" height="10.3" fill="#00f4ff"/>
<rect x="322.93" y="1146" width="34.85" height="10.3" fill="#00e8c4"/>
<rect x="357.48" y="1146" width="34.85" height="10.3" fill="#00d888"/>
<rect x="392.02" y="1146" width="34.85" height="10.3" fill="#00cc5c"/>
<rect x="426.57" y="1146" width="34.85" height="10.3" fill="#08b428"/>
<rect x="461.12" y="1146" width="34.85" height="10.3" fill="#30bc10"/>
<rect x="495.66" y="1146" width="34.85" height="10.3" fill="#68d008"/>
<rect x="530.21" y="1146" width="34.85" height="10.3" fill="#a0e008"/>
<rect x="564.75" y="1146" width="34.85" height="10.3" fill="#e0f408"/>
<rect x="599.30" y="1146" width="34.85" height="10.3" fill="#fff400"/>
<rect x="633.85" y="1146" width="34.85" height="10.3" fill="#ffdc00"/>
<rect x="668.39" y="1146" width="34.85" height="10.3" fill="#ffc800"/>
<rect x="702.94" y="1146" width="34.85" height="10.3" fill="#ffb000"/>
<rect x="737.48" y="1146" width="34.85" height="10.3" fill="#ff9800"/>
<rect x="772.03" y="1146" width="34.85" height="10.3" fill="#ff7400"/>
<rect x="806.58" y="1146" width="34.85" height="10.3" fill="#ff4c00"/>
<rect x="841.12" y="1146" width="34.85" height="10.3" fill="#ff2400"/>
<rect x="875.67" y="1146" width="34.85" height="10.3" fill="#ff0000"/>
<rect x="910.22" y="1146" width="34.85" height="10.3" fill="#d40020"/>
<rect x="944.76" y="1146" width="34.85" height="10.3" fill="#ac0040"/>
<rect x="979.31" y="1146" width="34.85" height="10.3" fill="#880060"/>
<rect x="1013.85" y="1146" width="34.85" height="10.3" fill="#600088"/>
</g>
<g stroke="#000" stroke-width="1" fill="none">
<rect x="150.2" y="1146" width="898.2" height="10.3"/>
<line x1="184.75" y1="1146" x2="184.75" y2="1156.3"/>
<line x1="219.29" y1="1146" x2="219.29" y2="1156.3"/>
<line x1="253.84" y1="1146" x2="253.84" y2="1156.3"/>
<line x1="288.38" y1="1146" x2="288.38" y2="1156.3"/>
<line x1="322.93" y1="1146" x2="322.93" y2="1156.3"/>
<line x1="357.48" y1="1146" x2="357.48" y2="1156.3"/>
<line x1="392.02" y1="1146" x2="392.02" y2="1156.3"/>
<line x1="426.57" y1="1146" x2="426.57" y2="1156.3"/>
<line x1="461.12" y1="1146" x2="461.12" y2="1156.3"/>
<line x1="495.66" y1="1146" x2="495.66" y2="1156.3"/>
<line x1="530.21" y1="1146" x2="530.21" y2="1156.3"/>
<line x1="564.75" y1="1146" x2="564.75" y2="1156.3"/>
<line x1="599.30" y1="1146" x2="599.30" y2="1156.3"/>
<line x1="633.85" y1="1146" x2="633.85" y2="1156.3"/>
<line x1="668.39" y1="1146" x2="668.39" y2="1156.3"/>
<line x1="702.94" y1="1146" x2="702.94" y2="1156.3"/>
<line x1="737.48" y1="1146" x2="737.48" y2="1156.3"/>
<line x1="772.03" y1="1146" x2="772.03" y2="1156.3"/>
<line x1="806.58" y1="1146" x2="806.58" y2="1156.3"/>
<line x1="841.12" y1="1146" x2="841.12" y2="1156.3"/>
<line x1="875.67" y1="1146" x2="875.67" y2="1156.3"/>
<line x1="910.22" y1="1146" x2="910.22" y2="1156.3"/>
<line x1="944.76" y1="1146" x2="944.76" y2="1156.3"/>
<line x1="979.31" y1="1146" x2="979.31" y2="1156.3"/>
<line x1="1013.85" y1="1146" x2="1013.85" y2="1156.3"/>
</g>
<text x="150.8" y="1179.2" font-size="24.5" font-weight="normal" text-anchor="middle" fill="#000" stroke="#000" stroke-width="0.3">9.5</text>
<text x="254.4" y="1179.2" font-size="24.5" font-weight="normal" text-anchor="middle" fill="#000" stroke="#000" stroke-width="0.3">11</text>
<text x="358.1" y="1179.2" font-size="24.5" font-weight="normal" text-anchor="middle" fill="#000" stroke="#000" stroke-width="0.3">12.5</text>
<text x="461.7" y="1179.2" font-size="24.5" font-weight="normal" text-anchor="middle" fill="#000" stroke="#000" stroke-width="0.3">14</text>
<text x="565.4" y="1179.2" font-size="24.5" font-weight="normal" text-anchor="middle" fill="#000" stroke="#000" stroke-width="0.3">15.5</text>
<text x="669.0" y="1179.2" font-size="24.5" font-weight="normal" text-anchor="middle" fill="#000" stroke="#000" stroke-width="0.3">17</text>
<text x="772.6" y="1179.2" font-size="24.5" font-weight="normal" text-anchor="middle" fill="#000" stroke="#000" stroke-width="0.3">18.5</text>
<text x="876.3" y="1179.2" font-size="24.5" font-weight="normal" text-anchor="middle" fill="#000" stroke="#000" stroke-width="0.3">20</text>
<text x="979.9" y="1179.2" font-size="24.5" font-weight="normal" text-anchor="middle" fill="#000" stroke="#000" stroke-width="0.3">21.5</text>
<text x="81.5" y="1170.2" font-size="24.5" font-weight="normal" text-anchor="start" fill="#000" stroke="#000" stroke-width="0.3">[C]</text>
<text x="1087.5" y="1170.2" font-size="24.5" font-weight="normal" text-anchor="start" fill="#000" stroke="#000" stroke-width="0.3">[C]</text>
</svg></body></html>
